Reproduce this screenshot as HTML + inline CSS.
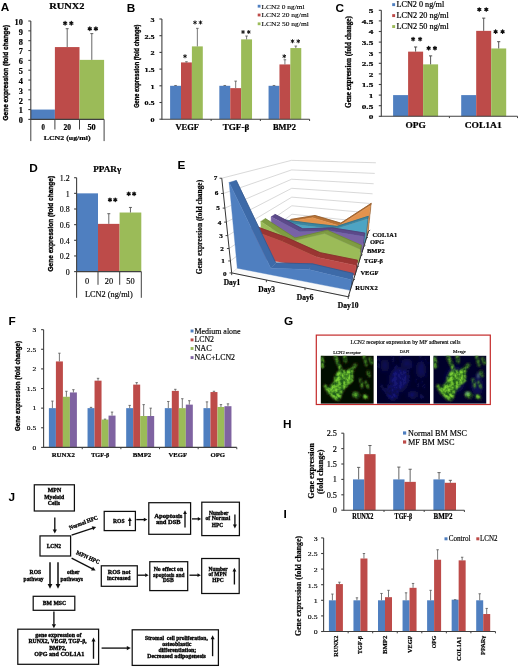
<!DOCTYPE html>
<html><head><meta charset="utf-8"><title>Figure</title>
<style>
html,body{margin:0;padding:0;background:#fff;}
body{width:520px;height:667px;overflow:hidden;font-family:"Liberation Serif",serif;}
svg{display:block;will-change:transform;}
</style></head><body>
<svg width="520" height="667" viewBox="0 0 520 667">
<defs><filter id="gblur" x="0" y="0" width="520" height="667" filterUnits="userSpaceOnUse"><feGaussianBlur stdDeviation="0.35"/></filter></defs>
<g filter="url(#gblur)">
<rect width="520" height="667" fill="#fff"/>
<text x="0.8" y="11.49" font-size="11.8" text-anchor="start" font-weight="bold" font-family="'Liberation Sans', sans-serif" fill="#000">A</text>
<text x="66.8" y="9.07" font-size="9" text-anchor="middle" font-weight="bold" font-family="'Liberation Serif', serif" fill="#000" textLength="35.2" lengthAdjust="spacingAndGlyphs" stroke="#000" stroke-width="0.2">RUNX2</text>
<text x="5.3" y="75.39" font-size="8" text-anchor="middle" font-weight="bold" font-family="'Liberation Sans', sans-serif" fill="#000" transform="rotate(-90 5.3 72.75)" textLength="95.7" lengthAdjust="spacingAndGlyphs" stroke="#000" stroke-width="0.4">Gene expression (fold change)</text>
<rect x="30.8" y="109.56" width="24.1" height="9.84" fill="#4f7fc0"/>
<rect x="54.9" y="47.08" width="24.6" height="72.32" fill="#bd4b48"/>
<rect x="79.5" y="59.87" width="24.6" height="59.53" fill="#9bbb59"/>
<line x1="67.2" y1="47.08" x2="67.2" y2="28.68" stroke="#555" stroke-width="0.9"/>
<line x1="65.7" y1="28.68" x2="68.7" y2="28.68" stroke="#555" stroke-width="0.9"/>
<line x1="91.8" y1="59.87" x2="91.8" y2="33.6" stroke="#555" stroke-width="0.9"/>
<line x1="90.3" y1="33.6" x2="93.3" y2="33.6" stroke="#555" stroke-width="0.9"/>
<line x1="30.8" y1="119.9" x2="30.8" y2="21" stroke="#404040" stroke-width="1.1"/>
<line x1="28.3" y1="119.4" x2="30.8" y2="119.4" stroke="#404040" stroke-width="1.1"/>
<text x="22.9" y="123.24" font-size="7.4" text-anchor="end" font-weight="bold" font-family="'Liberation Serif', serif" fill="#000" textLength="4.14" lengthAdjust="spacingAndGlyphs" stroke="#000" stroke-width="0.2">0</text>
<line x1="28.3" y1="109.56" x2="30.8" y2="109.56" stroke="#404040" stroke-width="1.1"/>
<text x="22.9" y="113.4" font-size="7.4" text-anchor="end" font-weight="bold" font-family="'Liberation Serif', serif" fill="#000" textLength="4.14" lengthAdjust="spacingAndGlyphs" stroke="#000" stroke-width="0.2">1</text>
<line x1="28.3" y1="99.72" x2="30.8" y2="99.72" stroke="#404040" stroke-width="1.1"/>
<text x="22.9" y="103.56" font-size="7.4" text-anchor="end" font-weight="bold" font-family="'Liberation Serif', serif" fill="#000" textLength="4.14" lengthAdjust="spacingAndGlyphs" stroke="#000" stroke-width="0.2">2</text>
<line x1="28.3" y1="89.88" x2="30.8" y2="89.88" stroke="#404040" stroke-width="1.1"/>
<text x="22.9" y="93.72" font-size="7.4" text-anchor="end" font-weight="bold" font-family="'Liberation Serif', serif" fill="#000" textLength="4.14" lengthAdjust="spacingAndGlyphs" stroke="#000" stroke-width="0.2">3</text>
<line x1="28.3" y1="80.04" x2="30.8" y2="80.04" stroke="#404040" stroke-width="1.1"/>
<text x="22.9" y="83.88" font-size="7.4" text-anchor="end" font-weight="bold" font-family="'Liberation Serif', serif" fill="#000" textLength="4.14" lengthAdjust="spacingAndGlyphs" stroke="#000" stroke-width="0.2">4</text>
<line x1="28.3" y1="70.2" x2="30.8" y2="70.2" stroke="#404040" stroke-width="1.1"/>
<text x="22.9" y="74.04" font-size="7.4" text-anchor="end" font-weight="bold" font-family="'Liberation Serif', serif" fill="#000" textLength="4.14" lengthAdjust="spacingAndGlyphs" stroke="#000" stroke-width="0.2">5</text>
<line x1="28.3" y1="60.36" x2="30.8" y2="60.36" stroke="#404040" stroke-width="1.1"/>
<text x="22.9" y="64.2" font-size="7.4" text-anchor="end" font-weight="bold" font-family="'Liberation Serif', serif" fill="#000" textLength="4.14" lengthAdjust="spacingAndGlyphs" stroke="#000" stroke-width="0.2">6</text>
<line x1="28.3" y1="50.52" x2="30.8" y2="50.52" stroke="#404040" stroke-width="1.1"/>
<text x="22.9" y="54.36" font-size="7.4" text-anchor="end" font-weight="bold" font-family="'Liberation Serif', serif" fill="#000" textLength="4.14" lengthAdjust="spacingAndGlyphs" stroke="#000" stroke-width="0.2">7</text>
<line x1="28.3" y1="40.68" x2="30.8" y2="40.68" stroke="#404040" stroke-width="1.1"/>
<text x="22.9" y="44.52" font-size="7.4" text-anchor="end" font-weight="bold" font-family="'Liberation Serif', serif" fill="#000" textLength="4.14" lengthAdjust="spacingAndGlyphs" stroke="#000" stroke-width="0.2">8</text>
<line x1="28.3" y1="30.84" x2="30.8" y2="30.84" stroke="#404040" stroke-width="1.1"/>
<text x="22.9" y="34.68" font-size="7.4" text-anchor="end" font-weight="bold" font-family="'Liberation Serif', serif" fill="#000" textLength="4.14" lengthAdjust="spacingAndGlyphs" stroke="#000" stroke-width="0.2">9</text>
<line x1="28.3" y1="21" x2="30.8" y2="21" stroke="#404040" stroke-width="1.1"/>
<text x="22.9" y="24.84" font-size="7.4" text-anchor="end" font-weight="bold" font-family="'Liberation Serif', serif" fill="#000" textLength="8.29" lengthAdjust="spacingAndGlyphs" stroke="#000" stroke-width="0.2">10</text>
<line x1="30.8" y1="119.4" x2="104.1" y2="119.4" stroke="#404040" stroke-width="1.1"/>
<line x1="30.8" y1="119.4" x2="30.8" y2="141.1" stroke="#404040" stroke-width="1"/>
<line x1="54.9" y1="119.4" x2="54.9" y2="129.5" stroke="#404040" stroke-width="1"/>
<line x1="79.5" y1="119.4" x2="79.5" y2="129.5" stroke="#404040" stroke-width="1"/>
<line x1="104.1" y1="119.4" x2="104.1" y2="141.1" stroke="#404040" stroke-width="1"/>
<text x="43.2" y="129.54" font-size="7.4" text-anchor="middle" font-weight="bold" font-family="'Liberation Serif', serif" fill="#000" textLength="3.4" lengthAdjust="spacingAndGlyphs" stroke="#000" stroke-width="0.2">0</text>
<text x="67.35" y="129.54" font-size="7.4" text-anchor="middle" font-weight="bold" font-family="'Liberation Serif', serif" fill="#000" textLength="7.5" lengthAdjust="spacingAndGlyphs" stroke="#000" stroke-width="0.2">20</text>
<text x="91.55" y="129.54" font-size="7.4" text-anchor="middle" font-weight="bold" font-family="'Liberation Serif', serif" fill="#000" textLength="8.3" lengthAdjust="spacingAndGlyphs" stroke="#000" stroke-width="0.2">50</text>
<text x="67.15" y="139.91" font-size="7" text-anchor="middle" font-weight="bold" font-family="'Liberation Serif', serif" fill="#000" textLength="46.9" lengthAdjust="spacingAndGlyphs" stroke="#000" stroke-width="0.2">LCN2 (ug/ml)</text>
<path d="M65.1 21.4L65.1 25M63.54 22.3L66.66 24.1M66.66 22.3L63.54 24.1" stroke="#111" stroke-width="1.25" stroke-linecap="round"/>
<path d="M71.3 21.4L71.3 25M69.74 22.3L72.86 24.1M72.86 22.3L69.74 24.1" stroke="#111" stroke-width="1.25" stroke-linecap="round"/>
<path d="M89.8 26.95L89.8 30.55M88.24 27.85L91.36 29.65M91.36 27.85L88.24 29.65" stroke="#111" stroke-width="1.25" stroke-linecap="round"/>
<path d="M95.9 26.95L95.9 30.55M94.34 27.85L97.46 29.65M97.46 27.85L94.34 29.65" stroke="#111" stroke-width="1.25" stroke-linecap="round"/>
<text x="126.8" y="11.89" font-size="11.8" text-anchor="start" font-weight="bold" font-family="'Liberation Sans', sans-serif" fill="#000">B</text>
<text x="136.6" y="68.59" font-size="7.4" text-anchor="middle" font-weight="bold" font-family="'Liberation Sans', sans-serif" fill="#000" transform="rotate(-90 136.6 66.15)" textLength="83.3" lengthAdjust="spacingAndGlyphs" stroke="#000" stroke-width="0.35">Gene expression (fold change)</text>
<rect x="170.1" y="85.8" width="10.9" height="33.4" fill="#4f7fc0"/>
<line x1="175.55" y1="85.8" x2="175.55" y2="85.47" stroke="#555" stroke-width="0.8"/>
<line x1="174.25" y1="85.47" x2="176.85" y2="85.47" stroke="#555" stroke-width="0.8"/>
<rect x="181" y="62.42" width="10.9" height="56.78" fill="#bd4b48"/>
<line x1="186.45" y1="62.42" x2="186.45" y2="61.75" stroke="#555" stroke-width="0.8"/>
<line x1="185.15" y1="61.75" x2="187.75" y2="61.75" stroke="#555" stroke-width="0.8"/>
<rect x="191.9" y="46.39" width="10.9" height="72.81" fill="#9bbb59"/>
<line x1="197.35" y1="46.39" x2="197.35" y2="28.35" stroke="#555" stroke-width="0.8"/>
<line x1="196.05" y1="28.35" x2="198.65" y2="28.35" stroke="#555" stroke-width="0.8"/>
<rect x="219.33" y="85.8" width="10.9" height="33.4" fill="#4f7fc0"/>
<line x1="224.78" y1="85.8" x2="224.78" y2="85.47" stroke="#555" stroke-width="0.8"/>
<line x1="223.48" y1="85.47" x2="226.08" y2="85.47" stroke="#555" stroke-width="0.8"/>
<rect x="230.23" y="88.14" width="10.9" height="31.06" fill="#bd4b48"/>
<line x1="235.68" y1="88.14" x2="235.68" y2="81.12" stroke="#555" stroke-width="0.8"/>
<line x1="234.38" y1="81.12" x2="236.98" y2="81.12" stroke="#555" stroke-width="0.8"/>
<rect x="241.13" y="39.37" width="10.9" height="79.83" fill="#9bbb59"/>
<line x1="246.58" y1="39.37" x2="246.58" y2="36.03" stroke="#555" stroke-width="0.8"/>
<line x1="245.28" y1="36.03" x2="247.88" y2="36.03" stroke="#555" stroke-width="0.8"/>
<rect x="268.56" y="85.8" width="10.9" height="33.4" fill="#4f7fc0"/>
<line x1="274.01" y1="85.8" x2="274.01" y2="85.47" stroke="#555" stroke-width="0.8"/>
<line x1="272.71" y1="85.47" x2="275.31" y2="85.47" stroke="#555" stroke-width="0.8"/>
<rect x="279.46" y="64.42" width="10.9" height="54.78" fill="#bd4b48"/>
<line x1="284.91" y1="64.42" x2="284.91" y2="59.75" stroke="#555" stroke-width="0.8"/>
<line x1="283.61" y1="59.75" x2="286.21" y2="59.75" stroke="#555" stroke-width="0.8"/>
<rect x="290.36" y="48.06" width="10.9" height="71.14" fill="#9bbb59"/>
<line x1="295.81" y1="48.06" x2="295.81" y2="46.05" stroke="#555" stroke-width="0.8"/>
<line x1="294.51" y1="46.05" x2="297.11" y2="46.05" stroke="#555" stroke-width="0.8"/>
<line x1="161.9" y1="119.7" x2="161.9" y2="19" stroke="#404040" stroke-width="1.1"/>
<line x1="159.4" y1="119.2" x2="161.9" y2="119.2" stroke="#404040" stroke-width="1.1"/>
<text x="154.6" y="122.04" font-size="6.8" text-anchor="end" font-weight="bold" font-family="'Liberation Serif', serif" fill="#000" textLength="4.08" lengthAdjust="spacingAndGlyphs" stroke="#000" stroke-width="0.2">0</text>
<line x1="159.4" y1="102.5" x2="161.9" y2="102.5" stroke="#404040" stroke-width="1.1"/>
<text x="154.6" y="105.34" font-size="6.8" text-anchor="end" font-weight="bold" font-family="'Liberation Serif', serif" fill="#000" textLength="10.2" lengthAdjust="spacingAndGlyphs" stroke="#000" stroke-width="0.2">0.5</text>
<line x1="159.4" y1="85.8" x2="161.9" y2="85.8" stroke="#404040" stroke-width="1.1"/>
<text x="154.6" y="88.64" font-size="6.8" text-anchor="end" font-weight="bold" font-family="'Liberation Serif', serif" fill="#000" textLength="4.08" lengthAdjust="spacingAndGlyphs" stroke="#000" stroke-width="0.2">1</text>
<line x1="159.4" y1="69.1" x2="161.9" y2="69.1" stroke="#404040" stroke-width="1.1"/>
<text x="154.6" y="71.94" font-size="6.8" text-anchor="end" font-weight="bold" font-family="'Liberation Serif', serif" fill="#000" textLength="10.2" lengthAdjust="spacingAndGlyphs" stroke="#000" stroke-width="0.2">1.5</text>
<line x1="159.4" y1="52.4" x2="161.9" y2="52.4" stroke="#404040" stroke-width="1.1"/>
<text x="154.6" y="55.24" font-size="6.8" text-anchor="end" font-weight="bold" font-family="'Liberation Serif', serif" fill="#000" textLength="4.08" lengthAdjust="spacingAndGlyphs" stroke="#000" stroke-width="0.2">2</text>
<line x1="159.4" y1="35.7" x2="161.9" y2="35.7" stroke="#404040" stroke-width="1.1"/>
<text x="154.6" y="38.54" font-size="6.8" text-anchor="end" font-weight="bold" font-family="'Liberation Serif', serif" fill="#000" textLength="10.2" lengthAdjust="spacingAndGlyphs" stroke="#000" stroke-width="0.2">2.5</text>
<line x1="159.4" y1="19" x2="161.9" y2="19" stroke="#404040" stroke-width="1.1"/>
<text x="154.6" y="21.84" font-size="6.8" text-anchor="end" font-weight="bold" font-family="'Liberation Serif', serif" fill="#000" textLength="4.08" lengthAdjust="spacingAndGlyphs" stroke="#000" stroke-width="0.2">3</text>
<line x1="161.9" y1="119.2" x2="309.59" y2="119.2" stroke="#404040" stroke-width="1.1"/>
<line x1="211.13" y1="119.2" x2="211.13" y2="121" stroke="#404040" stroke-width="1"/>
<line x1="260.36" y1="119.2" x2="260.36" y2="121" stroke="#404040" stroke-width="1"/>
<line x1="309.59" y1="119.2" x2="309.59" y2="121" stroke="#404040" stroke-width="1"/>
<text x="187.15" y="130.18" font-size="7.2" text-anchor="middle" font-weight="bold" font-family="'Liberation Serif', serif" fill="#000" textLength="23.5" lengthAdjust="spacingAndGlyphs" stroke="#000" stroke-width="0.2">VEGF</text>
<text x="236" y="130.18" font-size="7.2" text-anchor="middle" font-weight="bold" font-family="'Liberation Serif', serif" fill="#000" textLength="26.6" lengthAdjust="spacingAndGlyphs" stroke="#000" stroke-width="0.2">TGF-β</text>
<text x="284.45" y="130.18" font-size="7.2" text-anchor="middle" font-weight="bold" font-family="'Liberation Serif', serif" fill="#000" textLength="22.9" lengthAdjust="spacingAndGlyphs" stroke="#000" stroke-width="0.2">BMP2</text>
<path d="M185 54.65L185 57.85M183.61 55.45L186.39 57.05M186.39 55.45L183.61 57.05" stroke="#111" stroke-width="0.95" stroke-linecap="round"/>
<path d="M195 20.9L195 24.1M193.61 21.7L196.39 23.3M196.39 21.7L193.61 23.3" stroke="#111" stroke-width="0.95" stroke-linecap="round"/>
<path d="M200.5 20.9L200.5 24.1M199.11 21.7L201.89 23.3M201.89 21.7L199.11 23.3" stroke="#111" stroke-width="0.95" stroke-linecap="round"/>
<path d="M243.03 30.4L243.03 33.6M241.64 31.2L244.41 32.8M244.41 31.2L241.64 32.8" stroke="#111" stroke-width="0.95" stroke-linecap="round"/>
<path d="M248.78 30.4L248.78 33.6M247.39 31.2L250.16 32.8M250.16 31.2L247.39 32.8" stroke="#111" stroke-width="0.95" stroke-linecap="round"/>
<path d="M284.25 54.65L284.25 57.85M282.86 55.45L285.64 57.05M285.64 55.45L282.86 57.05" stroke="#111" stroke-width="0.95" stroke-linecap="round"/>
<path d="M292.52 39.65L292.52 42.85M291.14 40.45L293.91 42.05M293.91 40.45L291.14 42.05" stroke="#111" stroke-width="0.95" stroke-linecap="round"/>
<path d="M298.27 39.65L298.27 42.85M296.89 40.45L299.66 42.05M299.66 40.45L296.89 42.05" stroke="#111" stroke-width="0.95" stroke-linecap="round"/>
<rect x="257.7" y="4.8" width="2.8" height="2.8" fill="#4f7fc0"/>
<text x="283.05" y="8.51" font-size="7" text-anchor="middle" font-weight="normal" font-family="'Liberation Serif', serif" fill="#000" textLength="43.1" lengthAdjust="spacingAndGlyphs" stroke="#000" stroke-width="0.12">LCN2 0 ng/ml</text>
<rect x="257.7" y="13.6" width="2.8" height="2.8" fill="#bd4b48"/>
<text x="285.15" y="17.31" font-size="7" text-anchor="middle" font-weight="normal" font-family="'Liberation Serif', serif" fill="#000" textLength="47.3" lengthAdjust="spacingAndGlyphs" stroke="#000" stroke-width="0.12">LCN2 20 ng/ml</text>
<rect x="257.7" y="22.4" width="2.8" height="2.8" fill="#9bbb59"/>
<text x="285.15" y="26.11" font-size="7" text-anchor="middle" font-weight="normal" font-family="'Liberation Serif', serif" fill="#000" textLength="47.3" lengthAdjust="spacingAndGlyphs" stroke="#000" stroke-width="0.12">LCN2 50 ng/ml</text>
<text x="335.6" y="11.89" font-size="11.8" text-anchor="start" font-weight="bold" font-family="'Liberation Sans', sans-serif" fill="#000">C</text>
<text x="348.4" y="64.69" font-size="8" text-anchor="middle" font-weight="bold" font-family="'Liberation Serif', serif" fill="#000" transform="rotate(-90 348.4 62.05)" textLength="91.7" lengthAdjust="spacingAndGlyphs" stroke="#000" stroke-width="0.3">Gene expression (fold change)</text>
<rect x="393.1" y="95.1" width="15" height="21.2" fill="#4f7fc0"/>
<rect x="408.1" y="51.64" width="15" height="64.66" fill="#bd4b48"/>
<line x1="415.6" y1="51.64" x2="415.6" y2="46.98" stroke="#444" stroke-width="0.9"/>
<line x1="414" y1="46.98" x2="417.2" y2="46.98" stroke="#444" stroke-width="0.9"/>
<rect x="423.1" y="64.36" width="15" height="51.94" fill="#9bbb59"/>
<line x1="430.6" y1="64.36" x2="430.6" y2="55.88" stroke="#444" stroke-width="0.9"/>
<line x1="429" y1="55.88" x2="432.2" y2="55.88" stroke="#444" stroke-width="0.9"/>
<rect x="461.2" y="95.1" width="15" height="21.2" fill="#4f7fc0"/>
<rect x="476.2" y="30.86" width="15" height="85.44" fill="#bd4b48"/>
<line x1="483.7" y1="30.86" x2="483.7" y2="18.14" stroke="#444" stroke-width="0.9"/>
<line x1="482.1" y1="18.14" x2="485.3" y2="18.14" stroke="#444" stroke-width="0.9"/>
<rect x="491.2" y="48.46" width="15" height="67.84" fill="#9bbb59"/>
<line x1="498.7" y1="48.46" x2="498.7" y2="41.68" stroke="#444" stroke-width="0.9"/>
<line x1="497.1" y1="41.68" x2="500.3" y2="41.68" stroke="#444" stroke-width="0.9"/>
<line x1="381.3" y1="116.8" x2="381.3" y2="10.3" stroke="#404040" stroke-width="1.1"/>
<line x1="378.8" y1="116.3" x2="381.3" y2="116.3" stroke="#404040" stroke-width="1.1"/>
<text x="373.3" y="119.14" font-size="7.1" text-anchor="end" font-weight="bold" font-family="'Liberation Serif', serif" fill="#000" textLength="4.62" lengthAdjust="spacingAndGlyphs" stroke="#000" stroke-width="0.2">0</text>
<line x1="378.8" y1="105.7" x2="381.3" y2="105.7" stroke="#404040" stroke-width="1.1"/>
<text x="373.3" y="108.54" font-size="7.1" text-anchor="end" font-weight="bold" font-family="'Liberation Serif', serif" fill="#000" textLength="11.54" lengthAdjust="spacingAndGlyphs" stroke="#000" stroke-width="0.2">0.5</text>
<line x1="378.8" y1="95.1" x2="381.3" y2="95.1" stroke="#404040" stroke-width="1.1"/>
<text x="373.3" y="97.94" font-size="7.1" text-anchor="end" font-weight="bold" font-family="'Liberation Serif', serif" fill="#000" textLength="4.62" lengthAdjust="spacingAndGlyphs" stroke="#000" stroke-width="0.2">1</text>
<line x1="378.8" y1="84.5" x2="381.3" y2="84.5" stroke="#404040" stroke-width="1.1"/>
<text x="373.3" y="87.34" font-size="7.1" text-anchor="end" font-weight="bold" font-family="'Liberation Serif', serif" fill="#000" textLength="11.54" lengthAdjust="spacingAndGlyphs" stroke="#000" stroke-width="0.2">1.5</text>
<line x1="378.8" y1="73.9" x2="381.3" y2="73.9" stroke="#404040" stroke-width="1.1"/>
<text x="373.3" y="76.74" font-size="7.1" text-anchor="end" font-weight="bold" font-family="'Liberation Serif', serif" fill="#000" textLength="4.62" lengthAdjust="spacingAndGlyphs" stroke="#000" stroke-width="0.2">2</text>
<line x1="378.8" y1="63.3" x2="381.3" y2="63.3" stroke="#404040" stroke-width="1.1"/>
<text x="373.3" y="66.14" font-size="7.1" text-anchor="end" font-weight="bold" font-family="'Liberation Serif', serif" fill="#000" textLength="11.54" lengthAdjust="spacingAndGlyphs" stroke="#000" stroke-width="0.2">2.5</text>
<line x1="378.8" y1="52.7" x2="381.3" y2="52.7" stroke="#404040" stroke-width="1.1"/>
<text x="373.3" y="55.54" font-size="7.1" text-anchor="end" font-weight="bold" font-family="'Liberation Serif', serif" fill="#000" textLength="4.62" lengthAdjust="spacingAndGlyphs" stroke="#000" stroke-width="0.2">3</text>
<line x1="378.8" y1="42.1" x2="381.3" y2="42.1" stroke="#404040" stroke-width="1.1"/>
<text x="373.3" y="44.94" font-size="7.1" text-anchor="end" font-weight="bold" font-family="'Liberation Serif', serif" fill="#000" textLength="11.54" lengthAdjust="spacingAndGlyphs" stroke="#000" stroke-width="0.2">3.5</text>
<line x1="378.8" y1="31.5" x2="381.3" y2="31.5" stroke="#404040" stroke-width="1.1"/>
<text x="373.3" y="34.34" font-size="7.1" text-anchor="end" font-weight="bold" font-family="'Liberation Serif', serif" fill="#000" textLength="4.62" lengthAdjust="spacingAndGlyphs" stroke="#000" stroke-width="0.2">4</text>
<line x1="378.8" y1="20.9" x2="381.3" y2="20.9" stroke="#404040" stroke-width="1.1"/>
<text x="373.3" y="23.74" font-size="7.1" text-anchor="end" font-weight="bold" font-family="'Liberation Serif', serif" fill="#000" textLength="11.54" lengthAdjust="spacingAndGlyphs" stroke="#000" stroke-width="0.2">4.5</text>
<line x1="378.8" y1="10.3" x2="381.3" y2="10.3" stroke="#404040" stroke-width="1.1"/>
<text x="373.3" y="13.14" font-size="7.1" text-anchor="end" font-weight="bold" font-family="'Liberation Serif', serif" fill="#000" textLength="4.62" lengthAdjust="spacingAndGlyphs" stroke="#000" stroke-width="0.2">5</text>
<line x1="381.3" y1="116.3" x2="517.5" y2="116.3" stroke="#404040" stroke-width="1.1"/>
<line x1="449.4" y1="116.3" x2="449.4" y2="118.1" stroke="#404040" stroke-width="1"/>
<line x1="517.5" y1="116.3" x2="517.5" y2="118.1" stroke="#404040" stroke-width="1"/>
<text x="415.55" y="127.84" font-size="7.4" text-anchor="middle" font-weight="bold" font-family="'Liberation Serif', serif" fill="#000" textLength="20.3" lengthAdjust="spacingAndGlyphs" stroke="#000" stroke-width="0.2">OPG</text>
<text x="483.2" y="127.84" font-size="7.4" text-anchor="middle" font-weight="bold" font-family="'Liberation Serif', serif" fill="#000" textLength="37" lengthAdjust="spacingAndGlyphs" stroke="#000" stroke-width="0.2">COL1A1</text>
<path d="M413.1 37.4L413.1 40.8M411.63 38.25L414.57 39.95M414.57 38.25L411.63 39.95" stroke="#111" stroke-width="1.3" stroke-linecap="round"/>
<path d="M420.1 37.4L420.1 40.8M418.63 38.25L421.57 39.95M421.57 38.25L418.63 39.95" stroke="#111" stroke-width="1.3" stroke-linecap="round"/>
<path d="M428.65 46.5L428.65 49.9M427.18 47.35L430.12 49.05M430.12 47.35L427.18 49.05" stroke="#111" stroke-width="1.3" stroke-linecap="round"/>
<path d="M434.95 46.5L434.95 49.9M433.48 47.35L436.42 49.05M436.42 47.35L433.48 49.05" stroke="#111" stroke-width="1.3" stroke-linecap="round"/>
<path d="M479.3 7.8L479.3 11.2M477.83 8.65L480.77 10.35M480.77 8.65L477.83 10.35" stroke="#111" stroke-width="1.3" stroke-linecap="round"/>
<path d="M486.3 7.8L486.3 11.2M484.83 8.65L487.77 10.35M487.77 8.65L484.83 10.35" stroke="#111" stroke-width="1.3" stroke-linecap="round"/>
<path d="M495.6 30L495.6 33.4M494.13 30.85L497.07 32.55M497.07 30.85L494.13 32.55" stroke="#111" stroke-width="1.3" stroke-linecap="round"/>
<path d="M502.6 30L502.6 33.4M501.13 30.85L504.07 32.55M504.07 30.85L501.13 32.55" stroke="#111" stroke-width="1.3" stroke-linecap="round"/>
<rect x="392.2" y="3.2" width="2.9" height="2.9" fill="#4f7fc0"/>
<text x="420.35" y="7.11" font-size="7.6" text-anchor="middle" font-weight="normal" font-family="'Liberation Serif', serif" fill="#000" textLength="47.7" lengthAdjust="spacingAndGlyphs" stroke="#000" stroke-width="0.2">LCN2 0 ng/ml</text>
<rect x="392.2" y="14.15" width="2.9" height="2.9" fill="#bd4b48"/>
<text x="422.65" y="18.06" font-size="7.6" text-anchor="middle" font-weight="normal" font-family="'Liberation Serif', serif" fill="#000" textLength="52.3" lengthAdjust="spacingAndGlyphs" stroke="#000" stroke-width="0.2">LCN2 20 ng/ml</text>
<rect x="392.2" y="25.1" width="2.9" height="2.9" fill="#9bbb59"/>
<text x="422.65" y="29.01" font-size="7.6" text-anchor="middle" font-weight="normal" font-family="'Liberation Serif', serif" fill="#000" textLength="52.3" lengthAdjust="spacingAndGlyphs" stroke="#000" stroke-width="0.2">LCN2 50 ng/ml</text>
<text x="29.3" y="172.39" font-size="11.8" text-anchor="start" font-weight="bold" font-family="'Liberation Sans', sans-serif" fill="#000">D</text>
<text x="107.25" y="172.37" font-size="8.4" text-anchor="middle" font-weight="bold" font-family="'Liberation Serif', serif" fill="#000" textLength="28" lengthAdjust="spacingAndGlyphs" stroke="#000" stroke-width="0.2">PPARγ</text>
<text x="50.2" y="226.09" font-size="7.4" text-anchor="middle" font-weight="bold" font-family="'Liberation Sans', sans-serif" fill="#000" transform="rotate(-90 50.2 223.65)" textLength="95.7" lengthAdjust="spacingAndGlyphs" stroke="#000" stroke-width="0.35">Gene expression (fold change)</text>
<rect x="77" y="193.35" width="21" height="78.25" fill="#4f7fc0"/>
<rect x="98" y="223.87" width="21.6" height="47.73" fill="#bd4b48"/>
<rect x="119.6" y="212.52" width="21.7" height="59.08" fill="#9bbb59"/>
<line x1="108.8" y1="223.87" x2="108.8" y2="213.7" stroke="#555" stroke-width="0.9"/>
<line x1="107.3" y1="213.7" x2="110.3" y2="213.7" stroke="#555" stroke-width="0.9"/>
<line x1="130.45" y1="212.52" x2="130.45" y2="207.44" stroke="#555" stroke-width="0.9"/>
<line x1="128.95" y1="207.44" x2="131.95" y2="207.44" stroke="#555" stroke-width="0.9"/>
<line x1="76.6" y1="272.1" x2="76.6" y2="177.7" stroke="#404040" stroke-width="1.1"/>
<line x1="74.1" y1="271.6" x2="76.6" y2="271.6" stroke="#404040" stroke-width="1.1"/>
<text x="69.7" y="274.91" font-size="7.3" text-anchor="end" font-weight="normal" font-family="'Liberation Serif', serif" fill="#000" textLength="3.94" lengthAdjust="spacingAndGlyphs" stroke="#000" stroke-width="0.15">0</text>
<line x1="74.1" y1="255.95" x2="76.6" y2="255.95" stroke="#404040" stroke-width="1.1"/>
<text x="69.7" y="259.26" font-size="7.3" text-anchor="end" font-weight="normal" font-family="'Liberation Serif', serif" fill="#000" textLength="9.86" lengthAdjust="spacingAndGlyphs" stroke="#000" stroke-width="0.15">0.2</text>
<line x1="74.1" y1="240.3" x2="76.6" y2="240.3" stroke="#404040" stroke-width="1.1"/>
<text x="69.7" y="243.61" font-size="7.3" text-anchor="end" font-weight="normal" font-family="'Liberation Serif', serif" fill="#000" textLength="9.86" lengthAdjust="spacingAndGlyphs" stroke="#000" stroke-width="0.15">0.4</text>
<line x1="74.1" y1="224.65" x2="76.6" y2="224.65" stroke="#404040" stroke-width="1.1"/>
<text x="69.7" y="227.96" font-size="7.3" text-anchor="end" font-weight="normal" font-family="'Liberation Serif', serif" fill="#000" textLength="9.86" lengthAdjust="spacingAndGlyphs" stroke="#000" stroke-width="0.15">0.6</text>
<line x1="74.1" y1="209" x2="76.6" y2="209" stroke="#404040" stroke-width="1.1"/>
<text x="69.7" y="212.31" font-size="7.3" text-anchor="end" font-weight="normal" font-family="'Liberation Serif', serif" fill="#000" textLength="9.86" lengthAdjust="spacingAndGlyphs" stroke="#000" stroke-width="0.15">0.8</text>
<line x1="74.1" y1="193.35" x2="76.6" y2="193.35" stroke="#404040" stroke-width="1.1"/>
<text x="69.7" y="196.66" font-size="7.3" text-anchor="end" font-weight="normal" font-family="'Liberation Serif', serif" fill="#000" textLength="3.94" lengthAdjust="spacingAndGlyphs" stroke="#000" stroke-width="0.15">1</text>
<line x1="74.1" y1="177.7" x2="76.6" y2="177.7" stroke="#404040" stroke-width="1.1"/>
<text x="69.7" y="181.01" font-size="7.3" text-anchor="end" font-weight="normal" font-family="'Liberation Serif', serif" fill="#000" textLength="9.86" lengthAdjust="spacingAndGlyphs" stroke="#000" stroke-width="0.15">1.2</text>
<line x1="76.6" y1="271.6" x2="141.3" y2="271.6" stroke="#404040" stroke-width="1.1"/>
<line x1="76.6" y1="271.6" x2="76.6" y2="297.8" stroke="#404040" stroke-width="1"/>
<line x1="98" y1="271.6" x2="98" y2="284.8" stroke="#404040" stroke-width="1"/>
<line x1="119.7" y1="271.6" x2="119.7" y2="284.8" stroke="#404040" stroke-width="1"/>
<line x1="141.3" y1="271.6" x2="141.3" y2="297.8" stroke="#404040" stroke-width="1"/>
<text x="87" y="283.71" font-size="7.6" text-anchor="middle" font-weight="normal" font-family="'Liberation Serif', serif" fill="#000" textLength="4.18" lengthAdjust="spacingAndGlyphs" stroke="#000" stroke-width="0.15">0</text>
<text x="109" y="283.71" font-size="7.6" text-anchor="middle" font-weight="normal" font-family="'Liberation Serif', serif" fill="#000" textLength="8.36" lengthAdjust="spacingAndGlyphs" stroke="#000" stroke-width="0.15">20</text>
<text x="130.4" y="283.71" font-size="7.6" text-anchor="middle" font-weight="normal" font-family="'Liberation Serif', serif" fill="#000" textLength="8.36" lengthAdjust="spacingAndGlyphs" stroke="#000" stroke-width="0.15">50</text>
<text x="108.85" y="296.51" font-size="7.6" text-anchor="middle" font-weight="normal" font-family="'Liberation Serif', serif" fill="#000" textLength="47.7" lengthAdjust="spacingAndGlyphs" stroke="#000" stroke-width="0.15">LCN2 (ng/ml)</text>
<path d="M109.95 198.1L109.95 201.5M108.48 198.95L111.42 200.65M111.42 198.95L108.48 200.65" stroke="#111" stroke-width="1.3" stroke-linecap="round"/>
<path d="M115.25 198.1L115.25 201.5M113.78 198.95L116.72 200.65M116.72 198.95L113.78 200.65" stroke="#111" stroke-width="1.3" stroke-linecap="round"/>
<path d="M128.7 192.1L128.7 195.5M127.23 192.95L130.17 194.65M130.17 192.95L127.23 194.65" stroke="#111" stroke-width="1.3" stroke-linecap="round"/>
<path d="M134.1 192.1L134.1 195.5M132.63 192.95L135.57 194.65M135.57 192.95L132.63 194.65" stroke="#111" stroke-width="1.3" stroke-linecap="round"/>
<text x="177.5" y="168.69" font-size="11.8" text-anchor="start" font-weight="bold" font-family="'Liberation Sans', sans-serif" fill="#000">E</text>
<polyline points="230.42,260.94 291.91,214.21 369.5,222.33" fill="none" stroke="#c8c8c8" stroke-width="0.7"/>
<polyline points="229.12,248.5 291.85,205.78 370.49,213.08" fill="none" stroke="#c8c8c8" stroke-width="0.7"/>
<polyline points="227.77,235.57 291.79,197.15 371.52,203.58" fill="none" stroke="#c8c8c8" stroke-width="0.7"/>
<polyline points="226.36,222.11 291.72,188.3 372.57,193.81" fill="none" stroke="#c8c8c8" stroke-width="0.7"/>
<polyline points="224.9,208.09 291.66,179.22 373.66,183.76" fill="none" stroke="#c8c8c8" stroke-width="0.7"/>
<polyline points="223.37,193.48 291.59,169.91 374.77,173.42" fill="none" stroke="#c8c8c8" stroke-width="0.7"/>
<polyline points="221.77,178.23 291.52,160.35 375.92,162.78" fill="none" stroke="#c8c8c8" stroke-width="0.7"/>
<polygon points="231.68,272.91 348.26,296.78 368.53,231.32 291.97,222.42" fill="#fafafa" stroke="#d8d8d8" stroke-width="0.6"/>
<polygon points="287.7,221.73 312.65,217.78 314.97,215.5 290.57,219.44" fill="#b87234" stroke="#b87234" stroke-width="0.4"/>
<polygon points="312.65,217.78 339.21,225.69 340.86,223.12 314.97,215.5" fill="#b87234" stroke="#b87234" stroke-width="0.4"/>
<polygon points="339.21,225.69 370.4,205.51 371.25,203.36 340.86,223.12" fill="#b87234" stroke="#b87234" stroke-width="0.4"/>
<polyline points="290.57,219.44 314.97,215.5 340.86,223.12 371.25,203.36" fill="none" stroke="#8f5828" stroke-width="0.8" stroke-linejoin="round"/>
<polygon points="370.4,205.51 371.25,203.36 368.09,232.72 367.19,235.63" fill="#8f5828" stroke="#8f5828" stroke-width="0.4"/>
<polygon points="287.76,225.95 287.7,221.73 312.65,217.78 339.21,225.69 370.4,205.51 367.19,235.63" fill="#e3934e" stroke="#e3934e" stroke-width="0.4"/>
<polygon points="280.11,222.25 306.55,225.84 309.19,223.18 283.39,219.78" fill="#3a86a2" stroke="#3a86a2" stroke-width="0.4"/>
<polygon points="306.55,225.84 335.06,229.22 336.96,226.36 309.19,223.18" fill="#3a86a2" stroke="#3a86a2" stroke-width="0.4"/>
<polygon points="335.06,229.22 367.35,218.97 368.35,216.25 336.96,226.36" fill="#3a86a2" stroke="#3a86a2" stroke-width="0.4"/>
<polyline points="283.39,219.78 309.19,223.18 336.96,226.36 368.35,216.25" fill="none" stroke="#2f6f88" stroke-width="0.8" stroke-linejoin="round"/>
<polygon points="367.35,218.97 368.35,216.25 365.86,239.95 364.82,243.31" fill="#2f6f88" stroke="#2f6f88" stroke-width="0.4"/>
<polygon points="280.36,232.15 280.11,222.25 306.55,225.84 335.06,229.22 367.35,218.97 364.82,243.31" fill="#4ea4c4" stroke="#4ea4c4" stroke-width="0.4"/>
<polygon points="271.04,216.87 299.59,231.84 302.64,228.8 274.89,214.35" fill="#5c4a8a" stroke="#5c4a8a" stroke-width="0.4"/>
<polygon points="299.59,231.84 330.32,231.03 332.54,227.86 302.64,228.8" fill="#5c4a8a" stroke="#5c4a8a" stroke-width="0.4"/>
<polygon points="330.32,231.03 363.65,236.53 364.83,233.05 332.54,227.86" fill="#5c4a8a" stroke="#5c4a8a" stroke-width="0.4"/>
<polyline points="274.89,214.35 302.64,228.8 332.54,227.86 364.83,233.05" fill="none" stroke="#4e3f76" stroke-width="0.8" stroke-linejoin="round"/>
<polygon points="363.65,236.53 364.83,233.05 363.27,248.31 362.06,252.22" fill="#4e3f76" stroke="#4e3f76" stroke-width="0.4"/>
<polygon points="271.89,239.24 271.04,216.87 299.59,231.84 330.32,231.03 363.65,236.53 362.06,252.22" fill="#7862a6" stroke="#7862a6" stroke-width="0.4"/>
<polygon points="260.74,221.41 291.48,241.54 295.04,237.94 265.23,218.54" fill="#7e9c42" stroke="#7e9c42" stroke-width="0.4"/>
<polygon points="291.48,241.54 324.65,233.76 327.27,230.21 295.04,237.94" fill="#7e9c42" stroke="#7e9c42" stroke-width="0.4"/>
<polygon points="324.65,233.76 360.09,249.6 361.51,245.37 327.27,230.21" fill="#7e9c42" stroke="#7e9c42" stroke-width="0.4"/>
<polyline points="265.23,218.54 295.04,237.94 327.27,230.21 361.51,245.37" fill="none" stroke="#6b8636" stroke-width="0.8" stroke-linejoin="round"/>
<polygon points="360.09,249.6 361.51,245.37 360.24,258.08 358.81,262.69" fill="#6b8636" stroke="#6b8636" stroke-width="0.4"/>
<polygon points="262.13,247.41 260.74,221.41 291.48,241.54 324.65,233.76 360.09,249.6 358.81,262.69" fill="#9bbb59" stroke="#9bbb59" stroke-width="0.4"/>
<polygon points="248.74,229.1 281.72,241.27 285.99,237.32 254.02,225.72" fill="#9a3532" stroke="#9a3532" stroke-width="0.4"/>
<polygon points="281.72,241.27 317.14,257.37 320.21,252.69 285.99,237.32" fill="#9a3532" stroke="#9a3532" stroke-width="0.4"/>
<polygon points="317.14,257.37 355.86,265.44 357.56,260.22 320.21,252.69" fill="#9a3532" stroke="#9a3532" stroke-width="0.4"/>
<polyline points="254.02,225.72 285.99,237.32 320.21,252.69 357.56,260.22" fill="none" stroke="#852c2a" stroke-width="0.8" stroke-linejoin="round"/>
<polygon points="355.86,265.44 357.56,260.22 356.66,269.65 354.95,275.18" fill="#852c2a" stroke="#852c2a" stroke-width="0.4"/>
<polygon points="250.74,256.94 248.74,229.1 281.72,241.27 317.14,257.37 355.86,265.44 354.95,275.18" fill="#be4b48" stroke="#be4b48" stroke-width="0.4"/>
<polygon points="229.16,182.44 270.79,268.2 275.78,262.93 236.21,180.37" fill="#3d6aa8" stroke="#3d6aa8" stroke-width="0.4"/>
<polygon points="270.79,268.2 308.75,269.5 312.48,263.85 275.78,262.93" fill="#3d6aa8" stroke="#3d6aa8" stroke-width="0.4"/>
<polygon points="308.75,269.5 351.19,279.8 353.27,273.41 312.48,263.85" fill="#3d6aa8" stroke="#3d6aa8" stroke-width="0.4"/>
<polyline points="236.21,180.37 275.78,262.93 312.48,263.85 353.27,273.41" fill="none" stroke="#34588e" stroke-width="0.8" stroke-linejoin="round"/>
<polygon points="351.19,279.8 353.27,273.41 352.34,283.59 350.26,290.32" fill="#34588e" stroke="#34588e" stroke-width="0.4"/>
<polygon points="237.29,268.2 229.16,182.44 270.79,268.2 308.75,269.5 351.19,279.8 350.26,290.32" fill="#4f7fc0" stroke="#4f7fc0" stroke-width="0.4"/>
<line x1="231.68" y1="272.91" x2="221.77" y2="178.23" stroke="#333" stroke-width="1"/>
<line x1="229.48" y1="272.91" x2="231.68" y2="272.91" stroke="#333" stroke-width="0.9"/>
<text x="224.8" y="275.68" font-size="6.3" text-anchor="middle" font-weight="bold" font-family="'Liberation Serif', serif" fill="#000" textLength="3.62" lengthAdjust="spacingAndGlyphs" stroke="#000" stroke-width="0.2">0</text>
<line x1="228.22" y1="260.94" x2="230.42" y2="260.94" stroke="#333" stroke-width="0.9"/>
<text x="223.2" y="263.08" font-size="6.3" text-anchor="middle" font-weight="bold" font-family="'Liberation Serif', serif" fill="#000" textLength="3.62" lengthAdjust="spacingAndGlyphs" stroke="#000" stroke-width="0.2">1</text>
<line x1="226.92" y1="248.5" x2="229.12" y2="248.5" stroke="#333" stroke-width="0.9"/>
<text x="222" y="251.08" font-size="6.3" text-anchor="middle" font-weight="bold" font-family="'Liberation Serif', serif" fill="#000" textLength="3.62" lengthAdjust="spacingAndGlyphs" stroke="#000" stroke-width="0.2">2</text>
<line x1="225.57" y1="235.57" x2="227.77" y2="235.57" stroke="#333" stroke-width="0.9"/>
<text x="221" y="237.88" font-size="6.3" text-anchor="middle" font-weight="bold" font-family="'Liberation Serif', serif" fill="#000" textLength="3.62" lengthAdjust="spacingAndGlyphs" stroke="#000" stroke-width="0.2">3</text>
<line x1="224.16" y1="222.11" x2="226.36" y2="222.11" stroke="#333" stroke-width="0.9"/>
<text x="219.5" y="224.68" font-size="6.3" text-anchor="middle" font-weight="bold" font-family="'Liberation Serif', serif" fill="#000" textLength="3.62" lengthAdjust="spacingAndGlyphs" stroke="#000" stroke-width="0.2">4</text>
<line x1="222.7" y1="208.09" x2="224.9" y2="208.09" stroke="#333" stroke-width="0.9"/>
<text x="218.2" y="210.18" font-size="6.3" text-anchor="middle" font-weight="bold" font-family="'Liberation Serif', serif" fill="#000" textLength="3.62" lengthAdjust="spacingAndGlyphs" stroke="#000" stroke-width="0.2">5</text>
<line x1="221.17" y1="193.48" x2="223.37" y2="193.48" stroke="#333" stroke-width="0.9"/>
<text x="216.6" y="195.28" font-size="6.3" text-anchor="middle" font-weight="bold" font-family="'Liberation Serif', serif" fill="#000" textLength="3.62" lengthAdjust="spacingAndGlyphs" stroke="#000" stroke-width="0.2">6</text>
<line x1="219.57" y1="178.23" x2="221.77" y2="178.23" stroke="#333" stroke-width="0.9"/>
<text x="215.7" y="179.68" font-size="6.3" text-anchor="middle" font-weight="bold" font-family="'Liberation Serif', serif" fill="#000" textLength="3.62" lengthAdjust="spacingAndGlyphs" stroke="#000" stroke-width="0.2">7</text>
<line x1="231.68" y1="272.91" x2="348.26" y2="296.78" stroke="#333" stroke-width="1"/>
<line x1="231.68" y1="272.91" x2="231.68" y2="275.11" stroke="#333" stroke-width="0.9"/>
<line x1="266.38" y1="280.01" x2="266.38" y2="282.21" stroke="#333" stroke-width="0.9"/>
<line x1="305.01" y1="287.92" x2="305.01" y2="290.12" stroke="#333" stroke-width="0.9"/>
<line x1="348.26" y1="296.78" x2="348.26" y2="298.98" stroke="#333" stroke-width="0.9"/>
<text x="232" y="285.38" font-size="7.2" text-anchor="middle" font-weight="bold" font-family="'Liberation Serif', serif" fill="#000" textLength="16.6" lengthAdjust="spacingAndGlyphs" stroke="#000" stroke-width="0.2">Day1</text>
<text x="266.6" y="292.38" font-size="7.2" text-anchor="middle" font-weight="bold" font-family="'Liberation Serif', serif" fill="#000" textLength="16.6" lengthAdjust="spacingAndGlyphs" stroke="#000" stroke-width="0.2">Day3</text>
<text x="305.15" y="299.88" font-size="7.2" text-anchor="middle" font-weight="bold" font-family="'Liberation Serif', serif" fill="#000" textLength="16.7" lengthAdjust="spacingAndGlyphs" stroke="#000" stroke-width="0.2">Day6</text>
<text x="348.15" y="308.48" font-size="7.2" text-anchor="middle" font-weight="bold" font-family="'Liberation Serif', serif" fill="#000" textLength="20.7" lengthAdjust="spacingAndGlyphs" stroke="#000" stroke-width="0.2">Day10</text>
<line x1="348.26" y1="296.78" x2="368.53" y2="231.32" stroke="#333" stroke-width="1"/>
<line x1="348.26" y1="296.78" x2="349.86" y2="295.58" stroke="#333" stroke-width="0.9"/>
<line x1="353.32" y1="280.43" x2="354.92" y2="279.23" stroke="#333" stroke-width="0.9"/>
<line x1="357.46" y1="267.05" x2="359.06" y2="265.85" stroke="#333" stroke-width="0.9"/>
<line x1="360.92" y1="255.89" x2="362.52" y2="254.69" stroke="#333" stroke-width="0.9"/>
<line x1="363.84" y1="246.45" x2="365.44" y2="245.25" stroke="#333" stroke-width="0.9"/>
<line x1="366.35" y1="238.35" x2="367.95" y2="237.15" stroke="#333" stroke-width="0.9"/>
<line x1="368.53" y1="231.32" x2="370.13" y2="230.12" stroke="#333" stroke-width="0.9"/>
<text x="366.5" y="289.91" font-size="6.4" text-anchor="middle" font-weight="bold" font-family="'Liberation Serif', serif" fill="#000" textLength="22.4" lengthAdjust="spacingAndGlyphs" stroke="#000" stroke-width="0.2">RUNX2</text>
<text x="369.4" y="274.51" font-size="6.4" text-anchor="middle" font-weight="bold" font-family="'Liberation Serif', serif" fill="#000" textLength="18" lengthAdjust="spacingAndGlyphs" stroke="#000" stroke-width="0.2">VEGF</text>
<text x="373.55" y="262.71" font-size="6.4" text-anchor="middle" font-weight="bold" font-family="'Liberation Serif', serif" fill="#000" textLength="18.9" lengthAdjust="spacingAndGlyphs" stroke="#000" stroke-width="0.2">TGF-β</text>
<text x="375.8" y="252.61" font-size="6.4" text-anchor="middle" font-weight="bold" font-family="'Liberation Serif', serif" fill="#000" textLength="17.8" lengthAdjust="spacingAndGlyphs" stroke="#000" stroke-width="0.2">BMP2</text>
<text x="377" y="243.91" font-size="6.4" text-anchor="middle" font-weight="bold" font-family="'Liberation Serif', serif" fill="#000" textLength="14.2" lengthAdjust="spacingAndGlyphs" stroke="#000" stroke-width="0.2">OPG</text>
<text x="384.75" y="236.71" font-size="6.4" text-anchor="middle" font-weight="bold" font-family="'Liberation Serif', serif" fill="#000" textLength="24.7" lengthAdjust="spacingAndGlyphs" stroke="#000" stroke-width="0.2">COL1A1</text>
<text x="200" y="229.58" font-size="7.5" text-anchor="middle" font-weight="bold" font-family="'Liberation Serif', serif" fill="#000" transform="rotate(-90 200 227.1)" textLength="94.4" lengthAdjust="spacingAndGlyphs" stroke="#000" stroke-width="0.2">Gene expression (fold change)</text>
<text x="8.5" y="325.39" font-size="11.8" text-anchor="start" font-weight="bold" font-family="'Liberation Sans', sans-serif" fill="#000">F</text>
<text x="18" y="388.44" font-size="7.4" text-anchor="middle" font-weight="bold" font-family="'Liberation Sans', sans-serif" fill="#000" transform="rotate(-90 18 386)" textLength="90" lengthAdjust="spacingAndGlyphs" stroke="#000" stroke-width="0.35">Gene expression (fold change)</text>
<rect x="48.9" y="408.15" width="7" height="39.25" fill="#4f7fc0"/>
<line x1="52.4" y1="408.15" x2="52.4" y2="401.08" stroke="#555" stroke-width="0.8"/>
<line x1="51.2" y1="401.08" x2="53.6" y2="401.08" stroke="#555" stroke-width="0.8"/>
<rect x="55.9" y="361.44" width="7" height="85.96" fill="#bd4b48"/>
<line x1="59.4" y1="361.44" x2="59.4" y2="353.2" stroke="#555" stroke-width="0.8"/>
<line x1="58.2" y1="353.2" x2="60.6" y2="353.2" stroke="#555" stroke-width="0.8"/>
<rect x="62.9" y="396.77" width="7" height="50.63" fill="#9bbb59"/>
<line x1="66.4" y1="396.77" x2="66.4" y2="391.27" stroke="#555" stroke-width="0.8"/>
<line x1="65.2" y1="391.27" x2="67.6" y2="391.27" stroke="#555" stroke-width="0.8"/>
<rect x="69.9" y="392.45" width="7" height="54.95" fill="#7f63a1"/>
<line x1="73.4" y1="392.45" x2="73.4" y2="389.7" stroke="#555" stroke-width="0.8"/>
<line x1="72.2" y1="389.7" x2="74.6" y2="389.7" stroke="#555" stroke-width="0.8"/>
<text x="63.25" y="457.31" font-size="6.4" text-anchor="middle" font-weight="bold" font-family="'Liberation Serif', serif" fill="#000" textLength="23.1" lengthAdjust="spacingAndGlyphs" stroke="#000" stroke-width="0.2">RUNX2</text>
<rect x="87.54" y="408.15" width="7" height="39.25" fill="#4f7fc0"/>
<line x1="91.04" y1="408.15" x2="91.04" y2="407.36" stroke="#555" stroke-width="0.8"/>
<line x1="89.84" y1="407.36" x2="92.24" y2="407.36" stroke="#555" stroke-width="0.8"/>
<rect x="94.54" y="380.67" width="7" height="66.72" fill="#bd4b48"/>
<line x1="98.04" y1="380.67" x2="98.04" y2="378.32" stroke="#555" stroke-width="0.8"/>
<line x1="96.84" y1="378.32" x2="99.24" y2="378.32" stroke="#555" stroke-width="0.8"/>
<rect x="101.54" y="419.53" width="7" height="27.87" fill="#9bbb59"/>
<line x1="105.04" y1="419.53" x2="105.04" y2="419.14" stroke="#555" stroke-width="0.8"/>
<line x1="103.84" y1="419.14" x2="106.24" y2="419.14" stroke="#555" stroke-width="0.8"/>
<rect x="108.54" y="415.61" width="7" height="31.79" fill="#7f63a1"/>
<line x1="112.04" y1="415.61" x2="112.04" y2="412.07" stroke="#555" stroke-width="0.8"/>
<line x1="110.84" y1="412.07" x2="113.24" y2="412.07" stroke="#555" stroke-width="0.8"/>
<text x="100.3" y="457.31" font-size="6.4" text-anchor="middle" font-weight="bold" font-family="'Liberation Serif', serif" fill="#000" textLength="18.2" lengthAdjust="spacingAndGlyphs" stroke="#000" stroke-width="0.2">TGF-β</text>
<rect x="126.18" y="408.15" width="7" height="39.25" fill="#4f7fc0"/>
<line x1="129.68" y1="408.15" x2="129.68" y2="405.4" stroke="#555" stroke-width="0.8"/>
<line x1="128.48" y1="405.4" x2="130.88" y2="405.4" stroke="#555" stroke-width="0.8"/>
<rect x="133.18" y="384.6" width="7" height="62.8" fill="#bd4b48"/>
<line x1="136.68" y1="384.6" x2="136.68" y2="382.64" stroke="#555" stroke-width="0.8"/>
<line x1="135.48" y1="382.64" x2="137.88" y2="382.64" stroke="#555" stroke-width="0.8"/>
<rect x="140.18" y="416" width="7" height="31.4" fill="#9bbb59"/>
<line x1="143.68" y1="416" x2="143.68" y2="404.62" stroke="#555" stroke-width="0.8"/>
<line x1="142.48" y1="404.62" x2="144.88" y2="404.62" stroke="#555" stroke-width="0.8"/>
<rect x="147.18" y="416" width="7" height="31.4" fill="#7f63a1"/>
<line x1="150.68" y1="416" x2="150.68" y2="408.15" stroke="#555" stroke-width="0.8"/>
<line x1="149.48" y1="408.15" x2="151.88" y2="408.15" stroke="#555" stroke-width="0.8"/>
<text x="141.95" y="457.31" font-size="6.4" text-anchor="middle" font-weight="bold" font-family="'Liberation Serif', serif" fill="#000" textLength="18.5" lengthAdjust="spacingAndGlyphs" stroke="#000" stroke-width="0.2">BMP2</text>
<rect x="164.82" y="408.15" width="7" height="39.25" fill="#4f7fc0"/>
<line x1="168.32" y1="408.15" x2="168.32" y2="401.48" stroke="#555" stroke-width="0.8"/>
<line x1="167.12" y1="401.48" x2="169.52" y2="401.48" stroke="#555" stroke-width="0.8"/>
<rect x="171.82" y="390.88" width="7" height="56.52" fill="#bd4b48"/>
<line x1="175.32" y1="390.88" x2="175.32" y2="389.31" stroke="#555" stroke-width="0.8"/>
<line x1="174.12" y1="389.31" x2="176.52" y2="389.31" stroke="#555" stroke-width="0.8"/>
<rect x="178.82" y="408.15" width="7" height="39.25" fill="#9bbb59"/>
<line x1="182.32" y1="408.15" x2="182.32" y2="398.73" stroke="#555" stroke-width="0.8"/>
<line x1="181.12" y1="398.73" x2="183.52" y2="398.73" stroke="#555" stroke-width="0.8"/>
<rect x="185.82" y="404.62" width="7" height="42.78" fill="#7f63a1"/>
<line x1="189.32" y1="404.62" x2="189.32" y2="400.69" stroke="#555" stroke-width="0.8"/>
<line x1="188.12" y1="400.69" x2="190.52" y2="400.69" stroke="#555" stroke-width="0.8"/>
<text x="177.75" y="457.31" font-size="6.4" text-anchor="middle" font-weight="bold" font-family="'Liberation Serif', serif" fill="#000" textLength="18.5" lengthAdjust="spacingAndGlyphs" stroke="#000" stroke-width="0.2">VEGF</text>
<rect x="203.46" y="408.15" width="7" height="39.25" fill="#4f7fc0"/>
<line x1="206.96" y1="408.15" x2="206.96" y2="401.87" stroke="#555" stroke-width="0.8"/>
<line x1="205.76" y1="401.87" x2="208.16" y2="401.87" stroke="#555" stroke-width="0.8"/>
<rect x="210.46" y="392.06" width="7" height="55.34" fill="#bd4b48"/>
<line x1="213.96" y1="392.06" x2="213.96" y2="391.27" stroke="#555" stroke-width="0.8"/>
<line x1="212.76" y1="391.27" x2="215.16" y2="391.27" stroke="#555" stroke-width="0.8"/>
<rect x="217.46" y="406.97" width="7" height="40.43" fill="#9bbb59"/>
<line x1="220.96" y1="406.97" x2="220.96" y2="404.62" stroke="#555" stroke-width="0.8"/>
<line x1="219.76" y1="404.62" x2="222.16" y2="404.62" stroke="#555" stroke-width="0.8"/>
<rect x="224.46" y="406.19" width="7" height="41.21" fill="#7f63a1"/>
<line x1="227.96" y1="406.19" x2="227.96" y2="403.83" stroke="#555" stroke-width="0.8"/>
<line x1="226.76" y1="403.83" x2="229.16" y2="403.83" stroke="#555" stroke-width="0.8"/>
<text x="217.8" y="457.31" font-size="6.4" text-anchor="middle" font-weight="bold" font-family="'Liberation Serif', serif" fill="#000" textLength="14.6" lengthAdjust="spacingAndGlyphs" stroke="#000" stroke-width="0.2">OPG</text>
<line x1="43.6" y1="447.9" x2="43.6" y2="329.65" stroke="#404040" stroke-width="1.1"/>
<line x1="41.1" y1="447.4" x2="43.6" y2="447.4" stroke="#404040" stroke-width="1.1"/>
<text x="36.2" y="449.64" font-size="6.8" text-anchor="end" font-weight="normal" font-family="'Liberation Serif', serif" fill="#000" textLength="3.74" lengthAdjust="spacingAndGlyphs" stroke="#000" stroke-width="0.15">0</text>
<line x1="41.1" y1="427.77" x2="43.6" y2="427.77" stroke="#404040" stroke-width="1.1"/>
<text x="36.2" y="430.02" font-size="6.8" text-anchor="end" font-weight="normal" font-family="'Liberation Serif', serif" fill="#000" textLength="9.35" lengthAdjust="spacingAndGlyphs" stroke="#000" stroke-width="0.15">0.5</text>
<line x1="41.1" y1="408.15" x2="43.6" y2="408.15" stroke="#404040" stroke-width="1.1"/>
<text x="36.2" y="410.39" font-size="6.8" text-anchor="end" font-weight="normal" font-family="'Liberation Serif', serif" fill="#000" textLength="3.74" lengthAdjust="spacingAndGlyphs" stroke="#000" stroke-width="0.15">1</text>
<line x1="41.1" y1="388.52" x2="43.6" y2="388.52" stroke="#404040" stroke-width="1.1"/>
<text x="36.2" y="390.77" font-size="6.8" text-anchor="end" font-weight="normal" font-family="'Liberation Serif', serif" fill="#000" textLength="9.35" lengthAdjust="spacingAndGlyphs" stroke="#000" stroke-width="0.15">1.5</text>
<line x1="41.1" y1="368.9" x2="43.6" y2="368.9" stroke="#404040" stroke-width="1.1"/>
<text x="36.2" y="371.14" font-size="6.8" text-anchor="end" font-weight="normal" font-family="'Liberation Serif', serif" fill="#000" textLength="3.74" lengthAdjust="spacingAndGlyphs" stroke="#000" stroke-width="0.15">2</text>
<line x1="41.1" y1="349.27" x2="43.6" y2="349.27" stroke="#404040" stroke-width="1.1"/>
<text x="36.2" y="351.52" font-size="6.8" text-anchor="end" font-weight="normal" font-family="'Liberation Serif', serif" fill="#000" textLength="9.35" lengthAdjust="spacingAndGlyphs" stroke="#000" stroke-width="0.15">2.5</text>
<line x1="41.1" y1="329.65" x2="43.6" y2="329.65" stroke="#404040" stroke-width="1.1"/>
<text x="36.2" y="331.89" font-size="6.8" text-anchor="end" font-weight="normal" font-family="'Liberation Serif', serif" fill="#000" textLength="3.74" lengthAdjust="spacingAndGlyphs" stroke="#000" stroke-width="0.15">3</text>
<line x1="43.6" y1="447.4" x2="236.8" y2="447.4" stroke="#404040" stroke-width="1.1"/>
<line x1="82.24" y1="447.4" x2="82.24" y2="449.2" stroke="#404040" stroke-width="1"/>
<line x1="120.88" y1="447.4" x2="120.88" y2="449.2" stroke="#404040" stroke-width="1"/>
<line x1="159.52" y1="447.4" x2="159.52" y2="449.2" stroke="#404040" stroke-width="1"/>
<line x1="198.16" y1="447.4" x2="198.16" y2="449.2" stroke="#404040" stroke-width="1"/>
<line x1="236.8" y1="447.4" x2="236.8" y2="449.2" stroke="#404040" stroke-width="1"/>
<rect x="190.6" y="329.55" width="2.9" height="2.9" fill="#4f7fc0"/>
<text x="217.5" y="333.51" font-size="7.6" text-anchor="middle" font-weight="normal" font-family="'Liberation Serif', serif" fill="#000" textLength="46.2" lengthAdjust="spacingAndGlyphs" stroke="#000" stroke-width="0.15">Medium alone</text>
<rect x="190.6" y="338.45" width="2.9" height="2.9" fill="#bd4b48"/>
<text x="204.2" y="342.41" font-size="7.6" text-anchor="middle" font-weight="normal" font-family="'Liberation Serif', serif" fill="#000" textLength="19.6" lengthAdjust="spacingAndGlyphs" stroke="#000" stroke-width="0.15">LCN2</text>
<rect x="190.6" y="347.05" width="2.9" height="2.9" fill="#9bbb59"/>
<text x="203.15" y="351.01" font-size="7.6" text-anchor="middle" font-weight="normal" font-family="'Liberation Serif', serif" fill="#000" textLength="17.5" lengthAdjust="spacingAndGlyphs" stroke="#000" stroke-width="0.15">NAC</text>
<rect x="190.6" y="356.15" width="2.9" height="2.9" fill="#7f63a1"/>
<text x="214.7" y="360.11" font-size="7.6" text-anchor="middle" font-weight="normal" font-family="'Liberation Serif', serif" fill="#000" textLength="40.6" lengthAdjust="spacingAndGlyphs" stroke="#000" stroke-width="0.15">NAC+LCN2</text>
<text x="284" y="324.89" font-size="11.8" text-anchor="start" font-weight="bold" font-family="'Liberation Sans', sans-serif" fill="#000">G</text>
<defs><filter id="blur1" x="-20%" y="-20%" width="140%" height="140%"><feGaussianBlur stdDeviation="1.3"/></filter><filter id="blur2" x="-20%" y="-20%" width="140%" height="140%"><feGaussianBlur stdDeviation="2.2"/></filter><filter id="speck" x="0" y="0" width="53.2" height="48.2" filterUnits="userSpaceOnUse"><feTurbulence type="fractalNoise" baseFrequency="0.3" numOctaves="2" seed="7" result="n"/><feColorMatrix in="n" type="luminanceToAlpha" result="la"/><feComponentTransfer in="la" result="th"><feFuncA type="linear" slope="3.2" intercept="-1.05"/></feComponentTransfer><feGaussianBlur in="SourceGraphic" stdDeviation="1.1" result="sb"/><feComposite in="sb" in2="th" operator="in" result="c"/><feGaussianBlur in="c" stdDeviation="0.5"/></filter><clipPath id="cg1"><rect x="0" y="0" width="53.2" height="48.2"/></clipPath>
<g id="cellshapes">
  <polygon points="16,17 21,15 26,15 30,13 33,16 32,21 33,25 29,28 26,31 22,36 20,42 18,45 14,44 11,41 8,37 7,33 10,30 13,27 14,22"/>
  <polygon points="0,1 2.5,1 3.5,12 1,13"/>
  <polygon points="13,0 15.5,0 21.5,14 19.5,15.5"/>
  <polygon points="29.5,14 35,8 36.5,9 31,16"/>
  <polygon points="42,0 44,0 47,10 45.5,11"/>
  <polygon points="48,2 50,2.5 53,8 51,9"/>
  <polygon points="46.5,15 48.5,15.5 49.5,21 47.5,21"/>
  <polygon points="39,23 40.5,23 42.5,32 41,32.5"/>
  <polygon points="44,26 45.5,25.5 48.5,32 47,33"/>
  <polygon points="32,37 36,36.5 39.5,40 36.5,42.5 32.5,41"/>
  <polygon points="42,39 46,39.5 47.5,43 43,43"/>
  <polygon points="3,30 5.5,29 11,38 8.5,39.5"/>
  <polygon points="23,0 25,0 26,7 24,7.5"/>
</g></defs>
<rect x="316.3" y="335.1" width="174" height="69.4" fill="#fff" stroke="#c42a2a" stroke-width="1.2"/>
<text x="405.5" y="344.35" font-size="5.6" text-anchor="middle" font-weight="normal" font-family="'Liberation Serif', serif" fill="#000" textLength="110" lengthAdjust="spacingAndGlyphs" stroke="#000" stroke-width="0.15">LCN2 receptor expression by MF adherent cells</text>
<text x="347.05" y="353.75" font-size="5" text-anchor="middle" font-weight="normal" font-family="'Liberation Serif', serif" fill="#000" textLength="27.7" lengthAdjust="spacingAndGlyphs" stroke="#000" stroke-width="0.15">LCN2 receptor</text>
<text x="404.55" y="353.45" font-size="5" text-anchor="middle" font-weight="normal" font-family="'Liberation Serif', serif" fill="#000" textLength="9.5" lengthAdjust="spacingAndGlyphs" stroke="#000" stroke-width="0.15">DAPI</text>
<text x="459.5" y="353.15" font-size="5" text-anchor="middle" font-weight="normal" font-family="'Liberation Serif', serif" fill="#000" textLength="12.8" lengthAdjust="spacingAndGlyphs" stroke="#000" stroke-width="0.15">Merge</text>
<g transform="translate(320.6 355.6)" clip-path="url(#cg1)"><rect width="53.2" height="48.2" fill="#050903"/><use href="#cellshapes" fill="#24601a" filter="url(#blur1)"/><use href="#cellshapes" fill="#7cd036" filter="url(#speck)"/></g>
<g transform="translate(376.9 355.6)" clip-path="url(#cg1)"><rect width="53.2" height="48.2" fill="#05052c"/><g filter="url(#blur2)" fill="#12127a" opacity="0.6"><ellipse cx="22" cy="24" rx="9" ry="12"/><ellipse cx="8" cy="10" rx="3" ry="6"/><ellipse cx="44" cy="14" rx="4" ry="8"/><ellipse cx="36" cy="39" rx="5" ry="3"/><ellipse cx="16" cy="40" rx="5" ry="4"/><ellipse cx="30" cy="8" rx="5" ry="4"/></g><use href="#cellshapes" fill="#2626b8" filter="url(#speck)" opacity="0.32"/></g>
<g transform="translate(433.3 355.6)" clip-path="url(#cg1)"><rect width="53.2" height="48.2" fill="#05052a"/><g filter="url(#blur2)" fill="#10105e" opacity="0.8"><ellipse cx="22" cy="24" rx="10" ry="13"/><ellipse cx="44" cy="30" rx="6" ry="10"/></g><use href="#cellshapes" fill="#24601a" filter="url(#blur1)"/><use href="#cellshapes" fill="#7cd036" filter="url(#speck)"/><g filter="url(#blur1)" fill="#a8f0d8" opacity="0.55"><ellipse cx="45" cy="20" rx="1" ry="3"/><ellipse cx="34" cy="38" rx="2" ry="1.5"/></g></g>
<text x="283" y="427.89" font-size="11.8" text-anchor="start" font-weight="bold" font-family="'Liberation Sans', sans-serif" fill="#000">H</text>
<text x="311.4" y="473.54" font-size="8" text-anchor="middle" font-weight="bold" font-family="'Liberation Serif', serif" fill="#000" transform="rotate(-90 311.4 470.9)" textLength="55.8" lengthAdjust="spacingAndGlyphs" stroke="#000" stroke-width="0.2">Gene expression</text>
<text x="320.8" y="474.44" font-size="8" text-anchor="middle" font-weight="bold" font-family="'Liberation Serif', serif" fill="#000" transform="rotate(-90 320.8 471.8)" textLength="44.4" lengthAdjust="spacingAndGlyphs" stroke="#000" stroke-width="0.2">(fold change)</text>
<rect x="353" y="479.4" width="11.3" height="30.8" fill="#4f7fc0"/>
<line x1="358.65" y1="479.4" x2="358.65" y2="467.39" stroke="#555" stroke-width="0.9"/>
<line x1="357.05" y1="467.39" x2="360.25" y2="467.39" stroke="#555" stroke-width="0.9"/>
<rect x="364.3" y="454.14" width="11.3" height="56.06" fill="#bd4b48"/>
<line x1="369.95" y1="454.14" x2="369.95" y2="445.52" stroke="#555" stroke-width="0.9"/>
<line x1="368.35" y1="445.52" x2="371.55" y2="445.52" stroke="#555" stroke-width="0.9"/>
<text x="362.9" y="518.88" font-size="7.2" text-anchor="middle" font-weight="bold" font-family="'Liberation Serif', serif" fill="#000" textLength="21.2" lengthAdjust="spacingAndGlyphs" stroke="#000" stroke-width="0.2">RUNX2</text>
<rect x="393.2" y="479.4" width="11.3" height="30.8" fill="#4f7fc0"/>
<line x1="398.85" y1="479.4" x2="398.85" y2="467.08" stroke="#555" stroke-width="0.9"/>
<line x1="397.25" y1="467.08" x2="400.45" y2="467.08" stroke="#555" stroke-width="0.9"/>
<rect x="404.5" y="481.86" width="11.3" height="28.34" fill="#bd4b48"/>
<line x1="410.15" y1="481.86" x2="410.15" y2="469.24" stroke="#555" stroke-width="0.9"/>
<line x1="408.55" y1="469.24" x2="411.75" y2="469.24" stroke="#555" stroke-width="0.9"/>
<text x="403.45" y="518.88" font-size="7.2" text-anchor="middle" font-weight="bold" font-family="'Liberation Serif', serif" fill="#000" textLength="17.7" lengthAdjust="spacingAndGlyphs" stroke="#000" stroke-width="0.2">TGF-β</text>
<rect x="433.4" y="479.4" width="11.3" height="30.8" fill="#4f7fc0"/>
<line x1="439.05" y1="479.4" x2="439.05" y2="472.62" stroke="#555" stroke-width="0.9"/>
<line x1="437.45" y1="472.62" x2="440.65" y2="472.62" stroke="#555" stroke-width="0.9"/>
<rect x="444.7" y="482.79" width="11.3" height="27.41" fill="#bd4b48"/>
<line x1="450.35" y1="482.79" x2="450.35" y2="480.32" stroke="#555" stroke-width="0.9"/>
<line x1="448.75" y1="480.32" x2="451.95" y2="480.32" stroke="#555" stroke-width="0.9"/>
<text x="443" y="518.88" font-size="7.2" text-anchor="middle" font-weight="bold" font-family="'Liberation Serif', serif" fill="#000" textLength="19" lengthAdjust="spacingAndGlyphs" stroke="#000" stroke-width="0.2">BMP2</text>
<line x1="343.8" y1="510.7" x2="343.8" y2="433.2" stroke="#404040" stroke-width="1.1"/>
<line x1="341.3" y1="510.2" x2="343.8" y2="510.2" stroke="#404040" stroke-width="1.1"/>
<text x="337" y="513.28" font-size="7.2" text-anchor="end" font-weight="normal" font-family="'Liberation Serif', serif" fill="#000" textLength="4.14" lengthAdjust="spacingAndGlyphs" stroke="#000" stroke-width="0.15">0</text>
<line x1="341.3" y1="494.8" x2="343.8" y2="494.8" stroke="#404040" stroke-width="1.1"/>
<text x="337" y="497.88" font-size="7.2" text-anchor="end" font-weight="normal" font-family="'Liberation Serif', serif" fill="#000" textLength="10.35" lengthAdjust="spacingAndGlyphs" stroke="#000" stroke-width="0.15">0.5</text>
<line x1="341.3" y1="479.4" x2="343.8" y2="479.4" stroke="#404040" stroke-width="1.1"/>
<text x="337" y="482.48" font-size="7.2" text-anchor="end" font-weight="normal" font-family="'Liberation Serif', serif" fill="#000" textLength="4.14" lengthAdjust="spacingAndGlyphs" stroke="#000" stroke-width="0.15">1</text>
<line x1="341.3" y1="464" x2="343.8" y2="464" stroke="#404040" stroke-width="1.1"/>
<text x="337" y="467.08" font-size="7.2" text-anchor="end" font-weight="normal" font-family="'Liberation Serif', serif" fill="#000" textLength="10.35" lengthAdjust="spacingAndGlyphs" stroke="#000" stroke-width="0.15">1.5</text>
<line x1="341.3" y1="448.6" x2="343.8" y2="448.6" stroke="#404040" stroke-width="1.1"/>
<text x="337" y="451.68" font-size="7.2" text-anchor="end" font-weight="normal" font-family="'Liberation Serif', serif" fill="#000" textLength="4.14" lengthAdjust="spacingAndGlyphs" stroke="#000" stroke-width="0.15">2</text>
<line x1="341.3" y1="433.2" x2="343.8" y2="433.2" stroke="#404040" stroke-width="1.1"/>
<text x="337" y="436.28" font-size="7.2" text-anchor="end" font-weight="normal" font-family="'Liberation Serif', serif" fill="#000" textLength="10.35" lengthAdjust="spacingAndGlyphs" stroke="#000" stroke-width="0.15">2.5</text>
<line x1="343.8" y1="510.2" x2="464.4" y2="510.2" stroke="#404040" stroke-width="1.1"/>
<line x1="384" y1="510.2" x2="384" y2="512" stroke="#404040" stroke-width="1"/>
<line x1="424.2" y1="510.2" x2="424.2" y2="512" stroke="#404040" stroke-width="1"/>
<line x1="464.4" y1="510.2" x2="464.4" y2="512" stroke="#404040" stroke-width="1"/>
<rect x="403" y="431.4" width="3.2" height="3.2" fill="#4f7fc0"/>
<text x="437.5" y="435.64" font-size="8" text-anchor="middle" font-weight="normal" font-family="'Liberation Serif', serif" fill="#000" textLength="59" lengthAdjust="spacingAndGlyphs" stroke="#000" stroke-width="0.15">Normal BM MSC</text>
<rect x="403" y="440.4" width="3.2" height="3.2" fill="#bd4b48"/>
<text x="431.25" y="444.64" font-size="8" text-anchor="middle" font-weight="normal" font-family="'Liberation Serif', serif" fill="#000" textLength="46.5" lengthAdjust="spacingAndGlyphs" stroke="#000" stroke-width="0.15">MF BM MSC</text>
<text x="283.5" y="517.89" font-size="11.8" text-anchor="start" font-weight="bold" font-family="'Liberation Sans', sans-serif" fill="#000">I</text>
<text x="298.3" y="588.44" font-size="7.4" text-anchor="middle" font-weight="bold" font-family="'Liberation Serif', serif" fill="#000" transform="rotate(-90 298.3 586)" textLength="100" lengthAdjust="spacingAndGlyphs" stroke="#000" stroke-width="0.2">Gene expression (fold change)</text>
<rect x="328.9" y="600.3" width="7" height="31.2" fill="#4f7fc0"/>
<line x1="332.4" y1="600.3" x2="332.4" y2="594.06" stroke="#555" stroke-width="0.8"/>
<line x1="331.2" y1="594.06" x2="333.6" y2="594.06" stroke="#555" stroke-width="0.8"/>
<rect x="335.9" y="584.08" width="7" height="47.42" fill="#bd4b48"/>
<line x1="339.4" y1="584.08" x2="339.4" y2="582.2" stroke="#555" stroke-width="0.8"/>
<line x1="338.2" y1="582.2" x2="340.6" y2="582.2" stroke="#555" stroke-width="0.8"/>
<text x="335.88" y="648.3" font-size="6.2" text-anchor="middle" font-weight="bold" font-family="'Liberation Serif', serif" fill="#000" transform="rotate(-90 335.88 646.25)" textLength="21.1" lengthAdjust="spacingAndGlyphs" stroke="#000" stroke-width="0.2">RUNX2</text>
<rect x="353.45" y="600.3" width="7" height="31.2" fill="#4f7fc0"/>
<line x1="356.95" y1="600.3" x2="356.95" y2="597.8" stroke="#555" stroke-width="0.8"/>
<line x1="355.75" y1="597.8" x2="358.15" y2="597.8" stroke="#555" stroke-width="0.8"/>
<rect x="360.45" y="558.49" width="7" height="73.01" fill="#bd4b48"/>
<line x1="363.95" y1="558.49" x2="363.95" y2="553.5" stroke="#555" stroke-width="0.8"/>
<line x1="362.75" y1="553.5" x2="365.15" y2="553.5" stroke="#555" stroke-width="0.8"/>
<text x="360.43" y="647.05" font-size="6.2" text-anchor="middle" font-weight="bold" font-family="'Liberation Serif', serif" fill="#000" transform="rotate(-90 360.43 645)" textLength="18" lengthAdjust="spacingAndGlyphs" stroke="#000" stroke-width="0.2">TGF-β</text>
<rect x="378" y="600.3" width="7" height="31.2" fill="#4f7fc0"/>
<line x1="381.5" y1="600.3" x2="381.5" y2="593.44" stroke="#555" stroke-width="0.8"/>
<line x1="380.3" y1="593.44" x2="382.7" y2="593.44" stroke="#555" stroke-width="0.8"/>
<rect x="385" y="597.18" width="7" height="34.32" fill="#bd4b48"/>
<line x1="388.5" y1="597.18" x2="388.5" y2="590.32" stroke="#555" stroke-width="0.8"/>
<line x1="387.3" y1="590.32" x2="389.7" y2="590.32" stroke="#555" stroke-width="0.8"/>
<text x="384.98" y="646.9" font-size="6.2" text-anchor="middle" font-weight="bold" font-family="'Liberation Serif', serif" fill="#000" transform="rotate(-90 384.98 644.85)" textLength="18.3" lengthAdjust="spacingAndGlyphs" stroke="#000" stroke-width="0.2">BMP2</text>
<rect x="402.55" y="600.3" width="7" height="31.2" fill="#4f7fc0"/>
<line x1="406.05" y1="600.3" x2="406.05" y2="592.81" stroke="#555" stroke-width="0.8"/>
<line x1="404.85" y1="592.81" x2="407.25" y2="592.81" stroke="#555" stroke-width="0.8"/>
<rect x="409.55" y="587.82" width="7" height="43.68" fill="#bd4b48"/>
<line x1="413.05" y1="587.82" x2="413.05" y2="583.45" stroke="#555" stroke-width="0.8"/>
<line x1="411.85" y1="583.45" x2="414.25" y2="583.45" stroke="#555" stroke-width="0.8"/>
<text x="409.52" y="646.4" font-size="6.2" text-anchor="middle" font-weight="bold" font-family="'Liberation Serif', serif" fill="#000" transform="rotate(-90 409.52 644.35)" textLength="17.3" lengthAdjust="spacingAndGlyphs" stroke="#000" stroke-width="0.2">VEGF</text>
<rect x="427.1" y="600.3" width="7" height="31.2" fill="#4f7fc0"/>
<line x1="430.6" y1="600.3" x2="430.6" y2="590.32" stroke="#555" stroke-width="0.8"/>
<line x1="429.4" y1="590.32" x2="431.8" y2="590.32" stroke="#555" stroke-width="0.8"/>
<rect x="434.1" y="559.74" width="7" height="71.76" fill="#bd4b48"/>
<line x1="437.6" y1="559.74" x2="437.6" y2="549.76" stroke="#555" stroke-width="0.8"/>
<line x1="436.4" y1="549.76" x2="438.8" y2="549.76" stroke="#555" stroke-width="0.8"/>
<text x="434.07" y="644" font-size="6.2" text-anchor="middle" font-weight="bold" font-family="'Liberation Serif', serif" fill="#000" transform="rotate(-90 434.07 641.95)" textLength="12.5" lengthAdjust="spacingAndGlyphs" stroke="#000" stroke-width="0.2">OPG</text>
<rect x="451.65" y="599.68" width="7" height="31.82" fill="#4f7fc0"/>
<line x1="455.15" y1="599.68" x2="455.15" y2="599.68" stroke="#555" stroke-width="0.8"/>
<line x1="453.95" y1="599.68" x2="456.35" y2="599.68" stroke="#555" stroke-width="0.8"/>
<rect x="458.65" y="560.36" width="7" height="71.14" fill="#bd4b48"/>
<line x1="462.15" y1="560.36" x2="462.15" y2="557.24" stroke="#555" stroke-width="0.8"/>
<line x1="460.95" y1="557.24" x2="463.35" y2="557.24" stroke="#555" stroke-width="0.8"/>
<text x="458.62" y="650.75" font-size="6.2" text-anchor="middle" font-weight="bold" font-family="'Liberation Serif', serif" fill="#000" transform="rotate(-90 458.62 648.7)" textLength="24" lengthAdjust="spacingAndGlyphs" stroke="#000" stroke-width="0.2">COL1A1</text>
<rect x="476.2" y="600.3" width="7" height="31.2" fill="#4f7fc0"/>
<line x1="479.7" y1="600.3" x2="479.7" y2="593.75" stroke="#555" stroke-width="0.8"/>
<line x1="478.5" y1="593.75" x2="480.9" y2="593.75" stroke="#555" stroke-width="0.8"/>
<rect x="483.2" y="614.03" width="7" height="17.47" fill="#bd4b48"/>
<line x1="486.7" y1="614.03" x2="486.7" y2="608.41" stroke="#555" stroke-width="0.8"/>
<line x1="485.5" y1="608.41" x2="487.9" y2="608.41" stroke="#555" stroke-width="0.8"/>
<text x="483.18" y="647.35" font-size="6.2" text-anchor="middle" font-weight="bold" font-family="'Liberation Serif', serif" fill="#000" transform="rotate(-90 483.18 645.3)" textLength="19.2" lengthAdjust="spacingAndGlyphs" stroke="#000" stroke-width="0.2">PPARγ</text>
<line x1="323.6" y1="632" x2="323.6" y2="537.9" stroke="#404040" stroke-width="1.1"/>
<line x1="321.1" y1="631.5" x2="323.6" y2="631.5" stroke="#404040" stroke-width="1.1"/>
<text x="317.6" y="634.34" font-size="7.1" text-anchor="end" font-weight="normal" font-family="'Liberation Serif', serif" fill="#000" textLength="3.91" lengthAdjust="spacingAndGlyphs" stroke="#000" stroke-width="0.15">0</text>
<line x1="321.1" y1="615.9" x2="323.6" y2="615.9" stroke="#404040" stroke-width="1.1"/>
<text x="317.6" y="618.74" font-size="7.1" text-anchor="end" font-weight="normal" font-family="'Liberation Serif', serif" fill="#000" textLength="9.76" lengthAdjust="spacingAndGlyphs" stroke="#000" stroke-width="0.15">0.5</text>
<line x1="321.1" y1="600.3" x2="323.6" y2="600.3" stroke="#404040" stroke-width="1.1"/>
<text x="317.6" y="603.14" font-size="7.1" text-anchor="end" font-weight="normal" font-family="'Liberation Serif', serif" fill="#000" textLength="3.91" lengthAdjust="spacingAndGlyphs" stroke="#000" stroke-width="0.15">1</text>
<line x1="321.1" y1="584.7" x2="323.6" y2="584.7" stroke="#404040" stroke-width="1.1"/>
<text x="317.6" y="587.54" font-size="7.1" text-anchor="end" font-weight="normal" font-family="'Liberation Serif', serif" fill="#000" textLength="9.76" lengthAdjust="spacingAndGlyphs" stroke="#000" stroke-width="0.15">1.5</text>
<line x1="321.1" y1="569.1" x2="323.6" y2="569.1" stroke="#404040" stroke-width="1.1"/>
<text x="317.6" y="571.94" font-size="7.1" text-anchor="end" font-weight="normal" font-family="'Liberation Serif', serif" fill="#000" textLength="3.91" lengthAdjust="spacingAndGlyphs" stroke="#000" stroke-width="0.15">2</text>
<line x1="321.1" y1="553.5" x2="323.6" y2="553.5" stroke="#404040" stroke-width="1.1"/>
<text x="317.6" y="556.34" font-size="7.1" text-anchor="end" font-weight="normal" font-family="'Liberation Serif', serif" fill="#000" textLength="9.76" lengthAdjust="spacingAndGlyphs" stroke="#000" stroke-width="0.15">2.5</text>
<line x1="321.1" y1="537.9" x2="323.6" y2="537.9" stroke="#404040" stroke-width="1.1"/>
<text x="317.6" y="540.74" font-size="7.1" text-anchor="end" font-weight="normal" font-family="'Liberation Serif', serif" fill="#000" textLength="3.91" lengthAdjust="spacingAndGlyphs" stroke="#000" stroke-width="0.15">3</text>
<line x1="323.6" y1="631.5" x2="495.45" y2="631.5" stroke="#404040" stroke-width="1.1"/>
<line x1="348.15" y1="631.5" x2="348.15" y2="633.3" stroke="#404040" stroke-width="1"/>
<line x1="372.7" y1="631.5" x2="372.7" y2="633.3" stroke="#404040" stroke-width="1"/>
<line x1="397.25" y1="631.5" x2="397.25" y2="633.3" stroke="#404040" stroke-width="1"/>
<line x1="421.8" y1="631.5" x2="421.8" y2="633.3" stroke="#404040" stroke-width="1"/>
<line x1="446.35" y1="631.5" x2="446.35" y2="633.3" stroke="#404040" stroke-width="1"/>
<line x1="470.9" y1="631.5" x2="470.9" y2="633.3" stroke="#404040" stroke-width="1"/>
<line x1="495.45" y1="631.5" x2="495.45" y2="633.3" stroke="#404040" stroke-width="1"/>
<rect x="444.5" y="537.3" width="3" height="3" fill="#4f7fc0"/>
<text x="459.62" y="541.31" font-size="7.6" text-anchor="middle" font-weight="normal" font-family="'Liberation Serif', serif" fill="#000" textLength="21.75" lengthAdjust="spacingAndGlyphs" stroke="#000" stroke-width="0.15">Control</text>
<rect x="476.3" y="537.3" width="3" height="3" fill="#bd4b48"/>
<text x="488.75" y="541.31" font-size="7.6" text-anchor="middle" font-weight="normal" font-family="'Liberation Serif', serif" fill="#000" textLength="17.5" lengthAdjust="spacingAndGlyphs" stroke="#000" stroke-width="0.15">LCN2</text>
<text x="8.5" y="501.39" font-size="11.8" text-anchor="start" font-weight="bold" font-family="'Liberation Sans', sans-serif" fill="#000">J</text>
<rect x="34.3" y="484.8" width="40.1" height="26.2" fill="none" stroke="#111" stroke-width="1.25"/>
<text x="54.52" y="492.05" font-size="5.6" text-anchor="middle" font-weight="bold" font-family="'Liberation Serif', serif" fill="#000" textLength="13.45" lengthAdjust="spacingAndGlyphs" stroke="#000" stroke-width="0.3">MPN</text>
<text x="54.15" y="498.95" font-size="5.6" text-anchor="middle" font-weight="bold" font-family="'Liberation Serif', serif" fill="#000" textLength="19.9" lengthAdjust="spacingAndGlyphs" stroke="#000" stroke-width="0.3">Myeloid</text>
<text x="53.9" y="504.75" font-size="5.6" text-anchor="middle" font-weight="bold" font-family="'Liberation Serif', serif" fill="#000" textLength="12.2" lengthAdjust="spacingAndGlyphs" stroke="#000" stroke-width="0.3">Cells</text>
<line x1="54.8" y1="517.5" x2="54.8" y2="529.9" stroke="#111" stroke-width="1.35"/>
<polygon points="54.8,533.4 52.7,529.4 56.9,529.4" fill="#111"/>
<rect x="40" y="535.9" width="30.6" height="20.1" fill="none" stroke="#111" stroke-width="1.25"/>
<text x="53.9" y="547.55" font-size="5.6" text-anchor="middle" font-weight="bold" font-family="'Liberation Serif', serif" fill="#000" textLength="14.4" lengthAdjust="spacingAndGlyphs" stroke="#000" stroke-width="0.3">LCN2</text>
<line x1="71.6" y1="535.2" x2="92.88" y2="528.11" stroke="#111" stroke-width="1.35"/>
<polygon points="96.2,527 93.07,530.26 91.74,526.27" fill="#111"/>
<text x="83.4" y="524.51" font-size="5.8" text-anchor="middle" font-weight="bold" font-family="'Liberation Serif', serif" fill="#000" transform="rotate(-20.8 83.4 522.6)" textLength="30" lengthAdjust="spacingAndGlyphs" stroke="#000" stroke-width="0.3">Normal HPC</text>
<line x1="71.6" y1="558.1" x2="92.49" y2="568.8" stroke="#111" stroke-width="1.35"/>
<polygon points="95.6,570.4 91.08,570.44 93,566.71" fill="#111"/>
<text x="88" y="559.21" font-size="5.8" text-anchor="middle" font-weight="bold" font-family="'Liberation Serif', serif" fill="#000" transform="rotate(23.4 88 557.3)" textLength="25" lengthAdjust="spacingAndGlyphs" stroke="#000" stroke-width="0.3">MPN HPC</text>
<rect x="104.2" y="511.4" width="31.2" height="19.2" fill="none" stroke="#111" stroke-width="1.25"/>
<text x="118.75" y="522.75" font-size="5.6" text-anchor="middle" font-weight="bold" font-family="'Liberation Serif', serif" fill="#000" textLength="11.5" lengthAdjust="spacingAndGlyphs" stroke="#000" stroke-width="0.3">ROS</text>
<line x1="129.8" y1="526" x2="129.8" y2="520.5" stroke="#111" stroke-width="1.35"/>
<polygon points="129.8,517.2 131.7,521 127.9,521" fill="#111"/>
<line x1="136.3" y1="519.6" x2="144.3" y2="519.6" stroke="#111" stroke-width="1.35"/>
<polygon points="147.4,519.6 143.8,521.5 143.8,517.7" fill="#111"/>
<rect x="148.8" y="502.7" width="41.8" height="31.6" fill="none" stroke="#111" stroke-width="1.25"/>
<text x="168.35" y="517.75" font-size="5.6" text-anchor="middle" font-weight="bold" font-family="'Liberation Serif', serif" fill="#000" textLength="28.3" lengthAdjust="spacingAndGlyphs" stroke="#000" stroke-width="0.3">Apoptosis</text>
<text x="168.35" y="523.95" font-size="5.6" text-anchor="middle" font-weight="bold" font-family="'Liberation Serif', serif" fill="#000" textLength="24.7" lengthAdjust="spacingAndGlyphs" stroke="#000" stroke-width="0.3">and DSB</text>
<line x1="185" y1="527.6" x2="185" y2="513.4" stroke="#111" stroke-width="1.35"/>
<polygon points="185,510.3 186.9,513.9 183.1,513.9" fill="#111"/>
<line x1="192" y1="518.9" x2="198.3" y2="518.9" stroke="#111" stroke-width="1.35"/>
<polygon points="201.2,518.9 197.8,520.8 197.8,517" fill="#111"/>
<rect x="201.8" y="502.2" width="37.6" height="33.4" fill="none" stroke="#111" stroke-width="1.25"/>
<text x="218.8" y="514.55" font-size="5.6" text-anchor="middle" font-weight="bold" font-family="'Liberation Serif', serif" fill="#000" textLength="19.4" lengthAdjust="spacingAndGlyphs" stroke="#000" stroke-width="0.3">Number</text>
<text x="217.9" y="520.45" font-size="5.6" text-anchor="middle" font-weight="bold" font-family="'Liberation Serif', serif" fill="#000" textLength="24.8" lengthAdjust="spacingAndGlyphs" stroke="#000" stroke-width="0.3">of Normal</text>
<text x="217.45" y="526.65" font-size="5.6" text-anchor="middle" font-weight="bold" font-family="'Liberation Serif', serif" fill="#000" textLength="11.5" lengthAdjust="spacingAndGlyphs" stroke="#000" stroke-width="0.3">HPC</text>
<line x1="234.9" y1="514.5" x2="234.9" y2="525.1" stroke="#111" stroke-width="1.35"/>
<polygon points="234.9,528.4 232.9,524.6 236.9,524.6" fill="#111"/>
<rect x="101.3" y="565.8" width="36" height="20.5" fill="none" stroke="#111" stroke-width="1.25"/>
<text x="119.15" y="573.65" font-size="5.6" text-anchor="middle" font-weight="bold" font-family="'Liberation Serif', serif" fill="#000" textLength="22.9" lengthAdjust="spacingAndGlyphs" stroke="#000" stroke-width="0.3">ROS not</text>
<text x="118.8" y="580.15" font-size="5.6" text-anchor="middle" font-weight="bold" font-family="'Liberation Serif', serif" fill="#000" textLength="23.6" lengthAdjust="spacingAndGlyphs" stroke="#000" stroke-width="0.3">increased</text>
<line x1="137.3" y1="575.2" x2="145.7" y2="575.2" stroke="#111" stroke-width="1.35"/>
<polygon points="148.6,575.2 145.2,577.1 145.2,573.3" fill="#111"/>
<rect x="149.8" y="561.7" width="37.9" height="28.9" fill="none" stroke="#111" stroke-width="1.25"/>
<text x="168.4" y="570.65" font-size="5.6" text-anchor="middle" font-weight="bold" font-family="'Liberation Serif', serif" fill="#000" textLength="29.4" lengthAdjust="spacingAndGlyphs" stroke="#000" stroke-width="0.3">No effect on</text>
<text x="168.75" y="577.05" font-size="5.6" text-anchor="middle" font-weight="bold" font-family="'Liberation Serif', serif" fill="#000" textLength="31.3" lengthAdjust="spacingAndGlyphs" stroke="#000" stroke-width="0.3">apoptosis and</text>
<text x="168.25" y="582.25" font-size="5.6" text-anchor="middle" font-weight="bold" font-family="'Liberation Serif', serif" fill="#000" textLength="11.1" lengthAdjust="spacingAndGlyphs" stroke="#000" stroke-width="0.3">DSB</text>
<line x1="189.5" y1="575.2" x2="198" y2="575.2" stroke="#111" stroke-width="1.35"/>
<polygon points="200.9,575.2 197.5,577.1 197.5,573.3" fill="#111"/>
<rect x="201.7" y="558.5" width="37.5" height="35" fill="none" stroke="#111" stroke-width="1.25"/>
<text x="218.1" y="570.65" font-size="5.6" text-anchor="middle" font-weight="bold" font-family="'Liberation Serif', serif" fill="#000" textLength="19.2" lengthAdjust="spacingAndGlyphs" stroke="#000" stroke-width="0.3">Number</text>
<text x="217.6" y="576.05" font-size="5.6" text-anchor="middle" font-weight="bold" font-family="'Liberation Serif', serif" fill="#000" textLength="18.2" lengthAdjust="spacingAndGlyphs" stroke="#000" stroke-width="0.3">of MPN</text>
<text x="218.05" y="581.85" font-size="5.6" text-anchor="middle" font-weight="bold" font-family="'Liberation Serif', serif" fill="#000" textLength="11.5" lengthAdjust="spacingAndGlyphs" stroke="#000" stroke-width="0.3">HPC</text>
<line x1="234.4" y1="584.5" x2="234.4" y2="570.9" stroke="#111" stroke-width="1.35"/>
<polygon points="234.4,567.8 236.3,571.4 232.5,571.4" fill="#111"/>
<line x1="50" y1="562.2" x2="50" y2="584.5" stroke="#111" stroke-width="1.5"/>
<polygon points="50,588.8 47.6,584 52.4,584" fill="#111"/>
<line x1="58" y1="562.2" x2="58" y2="584.5" stroke="#111" stroke-width="1.5"/>
<polygon points="58,588.8 55.6,584 60.4,584" fill="#111"/>
<text x="35.4" y="574.15" font-size="5.6" text-anchor="middle" font-weight="bold" font-family="'Liberation Serif', serif" fill="#000" textLength="11.6" lengthAdjust="spacingAndGlyphs" stroke="#000" stroke-width="0.3">ROS</text>
<text x="33.6" y="580.85" font-size="5.6" text-anchor="middle" font-weight="bold" font-family="'Liberation Serif', serif" fill="#000" textLength="20" lengthAdjust="spacingAndGlyphs" stroke="#000" stroke-width="0.3">pathway</text>
<text x="73.25" y="574.15" font-size="5.6" text-anchor="middle" font-weight="bold" font-family="'Liberation Serif', serif" fill="#000" textLength="12.7" lengthAdjust="spacingAndGlyphs" stroke="#000" stroke-width="0.3">other</text>
<text x="71.7" y="580.85" font-size="5.6" text-anchor="middle" font-weight="bold" font-family="'Liberation Serif', serif" fill="#000" textLength="22.6" lengthAdjust="spacingAndGlyphs" stroke="#000" stroke-width="0.3">pathways</text>
<rect x="33.2" y="596.3" width="41.6" height="14" fill="none" stroke="#111" stroke-width="1.25"/>
<text x="54.5" y="604.95" font-size="5.6" text-anchor="middle" font-weight="bold" font-family="'Liberation Serif', serif" fill="#000" textLength="23.4" lengthAdjust="spacingAndGlyphs" stroke="#000" stroke-width="0.3">BM MSC</text>
<line x1="53.9" y1="611.5" x2="53.9" y2="624.8" stroke="#111" stroke-width="1.35"/>
<polygon points="53.9,628.3 51.8,624.3 56,624.3" fill="#111"/>
<rect x="17.8" y="629.2" width="80.8" height="35.1" fill="none" stroke="#111" stroke-width="1.25"/>
<text x="58.4" y="637.25" font-size="5.6" text-anchor="middle" font-weight="bold" font-family="'Liberation Serif', serif" fill="#000" textLength="46.2" lengthAdjust="spacingAndGlyphs" stroke="#000" stroke-width="0.3">gene expression of</text>
<text x="57.5" y="643.45" font-size="5.6" text-anchor="middle" font-weight="bold" font-family="'Liberation Serif', serif" fill="#000" textLength="58.2" lengthAdjust="spacingAndGlyphs" stroke="#000" stroke-width="0.3">RUNX2, VEGF, TGF-β,</text>
<text x="57.75" y="649.95" font-size="5.6" text-anchor="middle" font-weight="bold" font-family="'Liberation Serif', serif" fill="#000" textLength="17.1" lengthAdjust="spacingAndGlyphs" stroke="#000" stroke-width="0.3">BMP2,</text>
<text x="59.25" y="656.45" font-size="5.6" text-anchor="middle" font-weight="bold" font-family="'Liberation Serif', serif" fill="#000" textLength="50.1" lengthAdjust="spacingAndGlyphs" stroke="#000" stroke-width="0.3">OPG and COL1A1</text>
<line x1="93.5" y1="658.8" x2="93.5" y2="640.9" stroke="#111" stroke-width="1.35"/>
<polygon points="93.5,637.4 95.5,641.4 91.5,641.4" fill="#111"/>
<line x1="101.6" y1="648.1" x2="127.3" y2="648.1" stroke="#111" stroke-width="1.35"/>
<polygon points="130.8,648.1 126.8,650.2 126.8,646" fill="#111"/>
<rect x="132.2" y="629.8" width="86.2" height="35.6" fill="none" stroke="#111" stroke-width="1.25"/>
<text x="176.35" y="639.88" font-size="5.4" text-anchor="middle" font-weight="bold" font-family="'Liberation Serif', serif" fill="#000" textLength="62.9" lengthAdjust="spacingAndGlyphs" stroke="#000" stroke-width="0.3">Stromal&#160;&#160;cell proliferation,</text>
<text x="176.85" y="645.98" font-size="5.4" text-anchor="middle" font-weight="bold" font-family="'Liberation Serif', serif" fill="#000" textLength="29.3" lengthAdjust="spacingAndGlyphs" stroke="#000" stroke-width="0.3">osteoblastic</text>
<text x="177.35" y="651.78" font-size="5.4" text-anchor="middle" font-weight="bold" font-family="'Liberation Serif', serif" fill="#000" textLength="37.9" lengthAdjust="spacingAndGlyphs" stroke="#000" stroke-width="0.3">differentiation;</text>
<text x="176.55" y="657.98" font-size="5.4" text-anchor="middle" font-weight="bold" font-family="'Liberation Serif', serif" fill="#000" textLength="58.7" lengthAdjust="spacingAndGlyphs" stroke="#000" stroke-width="0.3">Decreased adipogenesis</text>
<line x1="212.6" y1="656.2" x2="212.6" y2="638.8" stroke="#111" stroke-width="1.35"/>
<polygon points="212.6,635.3 214.6,639.3 210.6,639.3" fill="#111"/>
</g>
</svg>
</body></html>
